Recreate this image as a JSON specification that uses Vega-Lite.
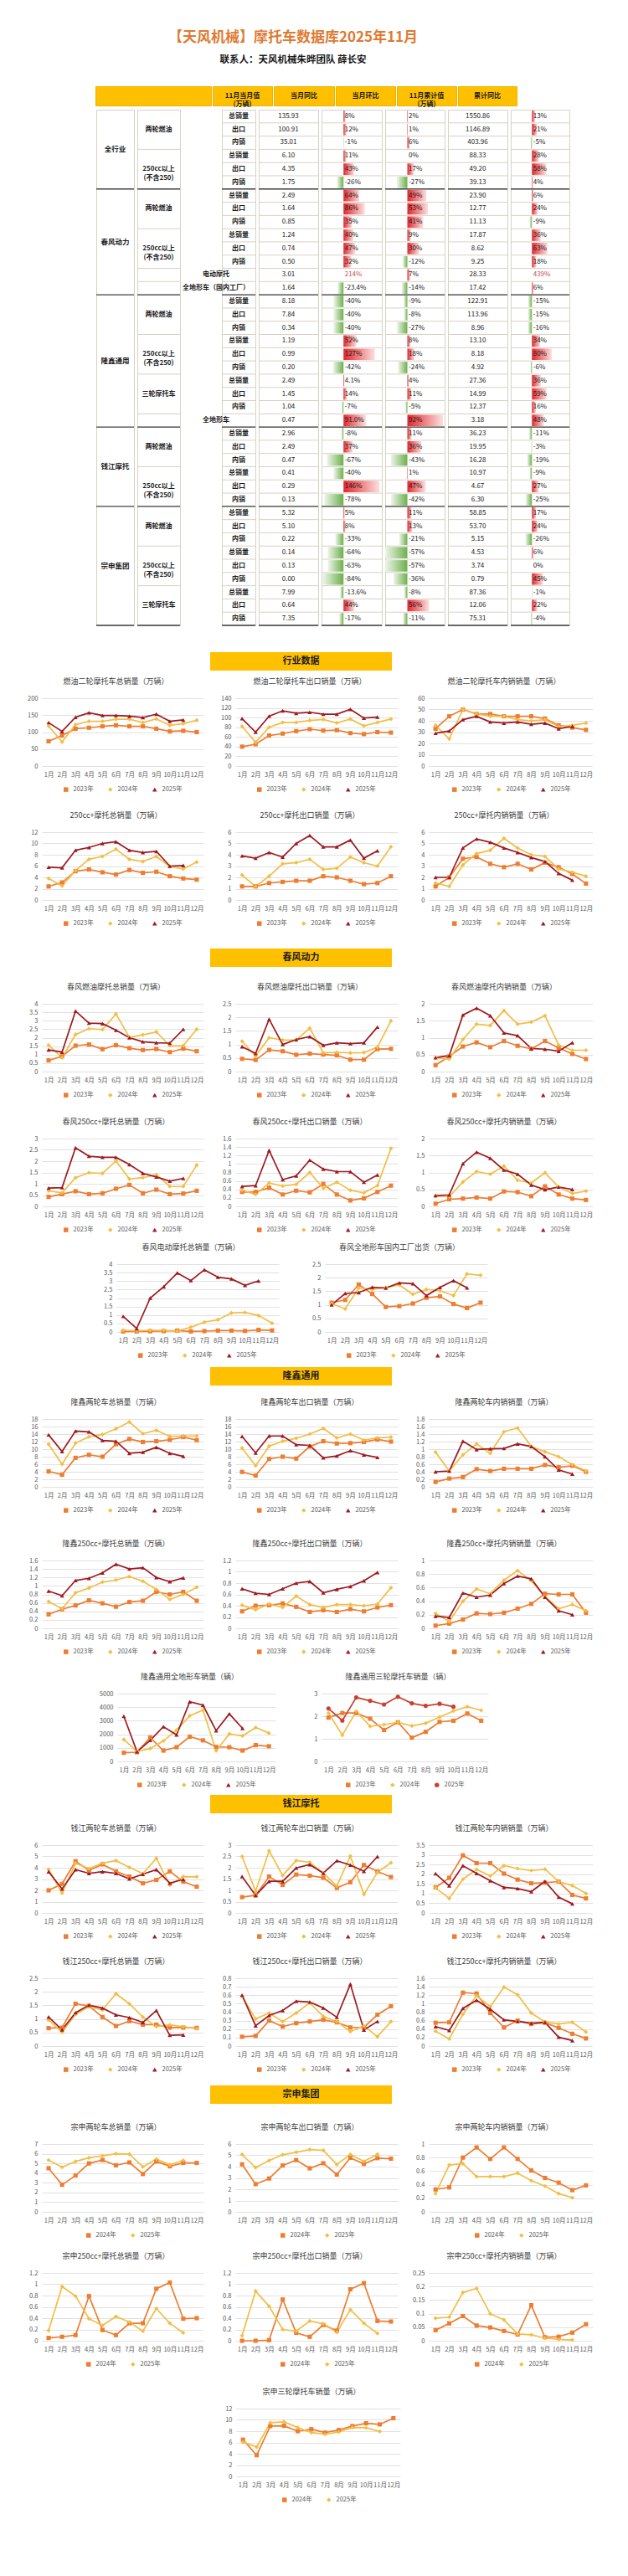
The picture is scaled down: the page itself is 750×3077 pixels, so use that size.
{
"$schema":"https://vega.github.io/schema/vega-lite/v6.json",
"background":"white",
"padding":{"left":0,"top":36,"right":0,"bottom":10},
"title":{"text":"【天风机械】摩托车数据库2025年11月","subtitle":"联系人：天风机械朱晔团队 薛长安","fontSize":17,"fontWeight":"bold","color":"#DE7A31","subtitleFontSize":11.5,"subtitleFontWeight":"bold","subtitleColor":"#1A1A1A","subtitlePadding":12,"offset":24,"anchor":"middle","frame":"bounds","dx":-4},
"config":{
"font":"Noto Sans CJK SC",
"view":{"stroke":null},
"axis":{"labelFontSize":7.5,"labelColor":"#595959","domain":false,"ticks":false,"labelOverlap":false,"gridColor":"#D9D9D9","gridWidth":0.8},
"axisX":{"labelAngle":0,"labelPadding":6,"grid":false},
"axisY":{"labelPadding":5},
"title":{"fontSize":9,"fontWeight":"normal","color":"#404040","frame":"group","anchor":"middle","dx":-8,"offset":11},
"legend":{"orient":"none","direction":"horizontal","labelFontSize":7.5,"labelColor":"#595959","symbolSize":30,"columnPadding":16,"labelOffset":5,"symbolStrokeWidth":0},
"line":{"strokeWidth":1.7},
"point":{"filled":true,"size":26,"opacity":1},
"text":{"fontSize":8,"color":"#1A1A1A"}
},
"datasets":{
"tbl":[
{"r":1,"co":"全行业","cat":"两轮燃油","met":"总销量","val":"135.93","yoy":0.08,"yt":"8%","mom":0.02,"mt":"2%","cum":"1550.86","cy":0.13,"ct":"13%"},
{"r":2,"co":"全行业","cat":"两轮燃油","met":"出口","val":"100.91","yoy":0.12,"yt":"12%","mom":0.01,"mt":"1%","cum":"1146.89","cy":0.21,"ct":"21%"},
{"r":3,"co":"全行业","cat":"两轮燃油","met":"内销","val":"35.01","yoy":-0.01,"yt":"-1%","mom":0.06,"mt":"6%","cum":"403.96","cy":-0.05,"ct":"-5%"},
{"r":4,"co":"全行业","cat":"250cc以上\n(不含250)","met":"总销量","val":"6.10","yoy":0.11,"yt":"11%","mom":0,"mt":"0%","cum":"88.33","cy":0.28,"ct":"28%"},
{"r":5,"co":"全行业","cat":"250cc以上\n(不含250)","met":"出口","val":"4.35","yoy":0.43,"yt":"43%","mom":0.17,"mt":"17%","cum":"49.20","cy":0.58,"ct":"58%"},
{"r":6,"co":"全行业","cat":"250cc以上\n(不含250)","met":"内销","val":"1.75","yoy":-0.26,"yt":"-26%","mom":-0.27,"mt":"-27%","cum":"39.13","cy":0.04,"ct":"4%"},
{"r":7,"co":"春风动力","cat":"两轮燃油","met":"总销量","val":"2.49","yoy":0.64,"yt":"64%","mom":0.49,"mt":"49%","cum":"23.90","cy":0.06,"ct":"6%"},
{"r":8,"co":"春风动力","cat":"两轮燃油","met":"出口","val":"1.64","yoy":0.86,"yt":"86%","mom":0.53,"mt":"53%","cum":"12.77","cy":0.24,"ct":"24%"},
{"r":9,"co":"春风动力","cat":"两轮燃油","met":"内销","val":"0.85","yoy":0.35,"yt":"35%","mom":0.41,"mt":"41%","cum":"11.13","cy":-0.09,"ct":"-9%"},
{"r":10,"co":"春风动力","cat":"250cc以上\n(不含250)","met":"总销量","val":"1.24","yoy":0.40,"yt":"40%","mom":0.09,"mt":"9%","cum":"17.87","cy":0.36,"ct":"36%"},
{"r":11,"co":"春风动力","cat":"250cc以上\n(不含250)","met":"出口","val":"0.74","yoy":0.47,"yt":"47%","mom":0.30,"mt":"30%","cum":"8.62","cy":0.63,"ct":"63%"},
{"r":12,"co":"春风动力","cat":"250cc以上\n(不含250)","met":"内销","val":"0.50","yoy":0.32,"yt":"32%","mom":-0.12,"mt":"-12%","cum":"9.25","cy":0.18,"ct":"18%"},
{"r":13,"co":"春风动力","cat":"电动摩托","met":"","val":"3.01","yoy":null,"yt":"214%","mom":0.07,"mt":"7%","cum":"28.33","cy":null,"ct":"439%"},
{"r":14,"co":"春风动力","cat":"全地形车（国内工厂）","met":"","val":"1.64","yoy":-0.234,"yt":"-23.4%","mom":-0.14,"mt":"-14%","cum":"17.42","cy":0.06,"ct":"6%"},
{"r":15,"co":"隆鑫通用","cat":"两轮燃油","met":"总销量","val":"8.18","yoy":-0.40,"yt":"-40%","mom":-0.09,"mt":"-9%","cum":"122.91","cy":-0.15,"ct":"-15%"},
{"r":16,"co":"隆鑫通用","cat":"两轮燃油","met":"出口","val":"7.84","yoy":-0.40,"yt":"-40%","mom":-0.08,"mt":"-8%","cum":"113.96","cy":-0.15,"ct":"-15%"},
{"r":17,"co":"隆鑫通用","cat":"两轮燃油","met":"内销","val":"0.34","yoy":-0.40,"yt":"-40%","mom":-0.27,"mt":"-27%","cum":"8.96","cy":-0.16,"ct":"-16%"},
{"r":18,"co":"隆鑫通用","cat":"250cc以上\n(不含250)","met":"总销量","val":"1.19","yoy":0.52,"yt":"52%","mom":0.08,"mt":"8%","cum":"13.10","cy":0.34,"ct":"34%"},
{"r":19,"co":"隆鑫通用","cat":"250cc以上\n(不含250)","met":"出口","val":"0.99","yoy":1.27,"yt":"127%","mom":0.18,"mt":"18%","cum":"8.18","cy":0.80,"ct":"80%"},
{"r":20,"co":"隆鑫通用","cat":"250cc以上\n(不含250)","met":"内销","val":"0.20","yoy":-0.42,"yt":"-42%","mom":-0.24,"mt":"-24%","cum":"4.92","cy":-0.06,"ct":"-6%"},
{"r":21,"co":"隆鑫通用","cat":"三轮摩托车","met":"总销量","val":"2.49","yoy":0.041,"yt":"4.1%","mom":0.04,"mt":"4%","cum":"27.36","cy":0.36,"ct":"36%"},
{"r":22,"co":"隆鑫通用","cat":"三轮摩托车","met":"出口","val":"1.45","yoy":0.14,"yt":"14%","mom":0.11,"mt":"11%","cum":"14.99","cy":0.59,"ct":"59%"},
{"r":23,"co":"隆鑫通用","cat":"三轮摩托车","met":"内销","val":"1.04","yoy":-0.07,"yt":"-7%","mom":-0.05,"mt":"-5%","cum":"12.37","cy":0.16,"ct":"16%"},
{"r":24,"co":"隆鑫通用","cat":"全地形车","met":"","val":"0.47","yoy":0.91,"yt":"91.0%","mom":0.92,"mt":"92%","cum":"3.18","cy":0.48,"ct":"48%"},
{"r":25,"co":"钱江摩托","cat":"两轮燃油","met":"总销量","val":"2.96","yoy":-0.08,"yt":"-8%","mom":0.11,"mt":"11%","cum":"36.23","cy":-0.11,"ct":"-11%"},
{"r":26,"co":"钱江摩托","cat":"两轮燃油","met":"出口","val":"2.49","yoy":0.37,"yt":"37%","mom":0.36,"mt":"36%","cum":"19.95","cy":-0.03,"ct":"-3%"},
{"r":27,"co":"钱江摩托","cat":"两轮燃油","met":"内销","val":"0.47","yoy":-0.67,"yt":"-67%","mom":-0.43,"mt":"-43%","cum":"16.28","cy":-0.19,"ct":"-19%"},
{"r":28,"co":"钱江摩托","cat":"250cc以上\n(不含250)","met":"总销量","val":"0.41","yoy":-0.40,"yt":"-40%","mom":0.01,"mt":"1%","cum":"10.97","cy":-0.09,"ct":"-9%"},
{"r":29,"co":"钱江摩托","cat":"250cc以上\n(不含250)","met":"出口","val":"0.29","yoy":1.46,"yt":"146%","mom":0.47,"mt":"47%","cum":"4.67","cy":0.27,"ct":"27%"},
{"r":30,"co":"钱江摩托","cat":"250cc以上\n(不含250)","met":"内销","val":"0.13","yoy":-0.78,"yt":"-78%","mom":-0.42,"mt":"-42%","cum":"6.30","cy":-0.25,"ct":"-25%"},
{"r":31,"co":"宗申集团","cat":"两轮燃油","met":"总销量","val":"5.32","yoy":0.05,"yt":"5%","mom":0.11,"mt":"11%","cum":"58.85","cy":0.17,"ct":"17%"},
{"r":32,"co":"宗申集团","cat":"两轮燃油","met":"出口","val":"5.10","yoy":0.08,"yt":"8%","mom":0.13,"mt":"13%","cum":"53.70","cy":0.24,"ct":"24%"},
{"r":33,"co":"宗申集团","cat":"两轮燃油","met":"内销","val":"0.22","yoy":-0.33,"yt":"-33%","mom":-0.21,"mt":"-21%","cum":"5.15","cy":-0.26,"ct":"-26%"},
{"r":34,"co":"宗申集团","cat":"250cc以上\n(不含250)","met":"总销量","val":"0.14","yoy":-0.64,"yt":"-64%","mom":-0.57,"mt":"-57%","cum":"4.53","cy":0.06,"ct":"6%"},
{"r":35,"co":"宗申集团","cat":"250cc以上\n(不含250)","met":"出口","val":"0.13","yoy":-0.63,"yt":"-63%","mom":-0.57,"mt":"-57%","cum":"3.74","cy":0,"ct":"0%"},
{"r":36,"co":"宗申集团","cat":"250cc以上\n(不含250)","met":"内销","val":"0.00","yoy":-0.84,"yt":"-84%","mom":-0.36,"mt":"-36%","cum":"0.79","cy":0.45,"ct":"45%"},
{"r":37,"co":"宗申集团","cat":"三轮摩托车","met":"总销量","val":"7.99","yoy":-0.136,"yt":"-13.6%","mom":-0.08,"mt":"-8%","cum":"87.36","cy":-0.01,"ct":"-1%"},
{"r":38,"co":"宗申集团","cat":"三轮摩托车","met":"出口","val":"0.64","yoy":0.44,"yt":"44%","mom":0.56,"mt":"56%","cum":"12.06","cy":0.22,"ct":"22%"},
{"r":39,"co":"宗申集团","cat":"三轮摩托车","met":"内销","val":"7.35","yoy":-0.17,"yt":"-17%","mom":-0.11,"mt":"-11%","cum":"75.31","cy":-0.04,"ct":"-4%"}
],
"I1":[{"m":1,"s":"2023年","v":73},{"m":2,"s":"2023年","v":90},{"m":3,"s":"2023年","v":110},{"m":4,"s":"2023年","v":113},{"m":5,"s":"2023年","v":117},{"m":6,"s":"2023年","v":120},{"m":7,"s":"2023年","v":117},{"m":8,"s":"2023年","v":117},{"m":9,"s":"2023年","v":110},{"m":10,"s":"2023年","v":102},{"m":11,"s":"2023年","v":104},{"m":12,"s":"2023年","v":100},
{"m":1,"s":"2024年","v":118},{"m":2,"s":"2024年","v":71},{"m":3,"s":"2024年","v":122},{"m":4,"s":"2024年","v":132},{"m":5,"s":"2024年","v":132},{"m":6,"s":"2024年","v":138},{"m":7,"s":"2024年","v":138},{"m":8,"s":"2024年","v":128},{"m":9,"s":"2024年","v":139},{"m":10,"s":"2024年","v":120},{"m":11,"s":"2024年","v":125},{"m":12,"s":"2024年","v":135},
{"m":1,"s":"2025年","v":128},{"m":2,"s":"2025年","v":102},{"m":3,"s":"2025年","v":144},{"m":4,"s":"2025年","v":157},{"m":5,"s":"2025年","v":149},{"m":6,"s":"2025年","v":149},{"m":7,"s":"2025年","v":147},{"m":8,"s":"2025年","v":143},{"m":9,"s":"2025年","v":153},{"m":10,"s":"2025年","v":132},{"m":11,"s":"2025年","v":136}],
"I2":[{"m":1,"s":"2023年","v":40},{"m":2,"s":"2023年","v":45},{"m":3,"s":"2023年","v":63},{"m":4,"s":"2023年","v":67},{"m":5,"s":"2023年","v":72},{"m":6,"s":"2023年","v":76},{"m":7,"s":"2023年","v":73},{"m":8,"s":"2023年","v":74},{"m":9,"s":"2023年","v":68},{"m":10,"s":"2023年","v":66},{"m":11,"s":"2023年","v":70},{"m":12,"s":"2023年","v":69},
{"m":1,"s":"2024年","v":82},{"m":2,"s":"2024年","v":49},{"m":3,"s":"2024年","v":80},{"m":4,"s":"2024年","v":90},{"m":5,"s":"2024年","v":90},{"m":6,"s":"2024年","v":94},{"m":7,"s":"2024年","v":96},{"m":8,"s":"2024年","v":89},{"m":9,"s":"2024年","v":97},{"m":10,"s":"2024年","v":83},{"m":11,"s":"2024年","v":90},{"m":12,"s":"2024年","v":97},
{"m":1,"s":"2025年","v":98},{"m":2,"s":"2025年","v":70},{"m":3,"s":"2025年","v":103},{"m":4,"s":"2025年","v":114},{"m":5,"s":"2025年","v":109},{"m":6,"s":"2025年","v":111},{"m":7,"s":"2025年","v":107},{"m":8,"s":"2025年","v":107},{"m":9,"s":"2025年","v":117},{"m":10,"s":"2025年","v":99},{"m":11,"s":"2025年","v":101}],
"I3":[{"m":1,"s":"2023年","v":33},{"m":2,"s":"2023年","v":44},{"m":3,"s":"2023年","v":50},{"m":4,"s":"2023年","v":46},{"m":5,"s":"2023年","v":46},{"m":6,"s":"2023年","v":44},{"m":7,"s":"2023年","v":44},{"m":8,"s":"2023年","v":44},{"m":9,"s":"2023年","v":42},{"m":10,"s":"2023年","v":36},{"m":11,"s":"2023年","v":34},{"m":12,"s":"2023年","v":32},
{"m":1,"s":"2024年","v":36},{"m":2,"s":"2024年","v":24},{"m":3,"s":"2024年","v":50},{"m":4,"s":"2024年","v":46},{"m":5,"s":"2024年","v":44},{"m":6,"s":"2024年","v":44},{"m":7,"s":"2024年","v":41},{"m":8,"s":"2024年","v":40},{"m":9,"s":"2024年","v":41},{"m":10,"s":"2024年","v":35},{"m":11,"s":"2024年","v":36},{"m":12,"s":"2024年","v":38},
{"m":1,"s":"2025年","v":29},{"m":2,"s":"2025年","v":31},{"m":3,"s":"2025年","v":41},{"m":4,"s":"2025年","v":44},{"m":5,"s":"2025年","v":39},{"m":6,"s":"2025年","v":38},{"m":7,"s":"2025年","v":39},{"m":8,"s":"2025年","v":37},{"m":9,"s":"2025年","v":38},{"m":10,"s":"2025年","v":33},{"m":11,"s":"2025年","v":35}],
"I4":[{"m":1,"s":"2023年","v":2.4},{"m":2,"s":"2023年","v":3.1},{"m":3,"s":"2023年","v":5.1},{"m":4,"s":"2023年","v":5.4},{"m":5,"s":"2023年","v":4.9},{"m":6,"s":"2023年","v":4.5},{"m":7,"s":"2023年","v":5.3},{"m":8,"s":"2023年","v":4.8},{"m":9,"s":"2023年","v":5.0},{"m":10,"s":"2023年","v":4.2},{"m":11,"s":"2023年","v":3.8},{"m":12,"s":"2023年","v":3.6},
{"m":1,"s":"2024年","v":3.8},{"m":2,"s":"2024年","v":2.5},{"m":3,"s":"2024年","v":5.2},{"m":4,"s":"2024年","v":7.2},{"m":5,"s":"2024年","v":7.7},{"m":6,"s":"2024年","v":9.0},{"m":7,"s":"2024年","v":7.2},{"m":8,"s":"2024年","v":6.8},{"m":9,"s":"2024年","v":7.7},{"m":10,"s":"2024年","v":5.9},{"m":11,"s":"2024年","v":5.5},{"m":12,"s":"2024年","v":6.7},
{"m":1,"s":"2025年","v":5.8},{"m":2,"s":"2025年","v":5.7},{"m":3,"s":"2025年","v":8.8},{"m":4,"s":"2025年","v":9.3},{"m":5,"s":"2025年","v":10.0},{"m":6,"s":"2025年","v":10.3},{"m":7,"s":"2025年","v":8.8},{"m":8,"s":"2025年","v":8.4},{"m":9,"s":"2025年","v":8.6},{"m":10,"s":"2025年","v":6.0},{"m":11,"s":"2025年","v":6.1}],
"I5":[{"m":1,"s":"2023年","v":1.2},{"m":2,"s":"2023年","v":1.2},{"m":3,"s":"2023年","v":1.5},{"m":4,"s":"2023年","v":1.6},{"m":5,"s":"2023年","v":1.7},{"m":6,"s":"2023年","v":1.7},{"m":7,"s":"2023年","v":2.1},{"m":8,"s":"2023年","v":2.0},{"m":9,"s":"2023年","v":1.7},{"m":10,"s":"2023年","v":1.4},{"m":11,"s":"2023年","v":1.5},{"m":12,"s":"2023年","v":2.1},
{"m":1,"s":"2024年","v":2.2},{"m":2,"s":"2024年","v":1.2},{"m":3,"s":"2024年","v":2.1},{"m":4,"s":"2024年","v":3.2},{"m":5,"s":"2024年","v":3.3},{"m":6,"s":"2024年","v":3.6},{"m":7,"s":"2024年","v":2.7},{"m":8,"s":"2024年","v":2.8},{"m":9,"s":"2024年","v":3.8},{"m":10,"s":"2024年","v":3.3},{"m":11,"s":"2024年","v":3.0},{"m":12,"s":"2024年","v":4.7},
{"m":1,"s":"2025年","v":3.9},{"m":2,"s":"2025年","v":3.7},{"m":3,"s":"2025年","v":4.2},{"m":4,"s":"2025年","v":3.8},{"m":5,"s":"2025年","v":5.0},{"m":6,"s":"2025年","v":5.7},{"m":7,"s":"2025年","v":4.7},{"m":8,"s":"2025年","v":4.7},{"m":9,"s":"2025年","v":5.3},{"m":10,"s":"2025年","v":3.7},{"m":11,"s":"2025年","v":4.35}],
"I6":[{"m":1,"s":"2023年","v":1.2},{"m":2,"s":"2023年","v":2.0},{"m":3,"s":"2023年","v":3.65},{"m":4,"s":"2023年","v":3.8},{"m":5,"s":"2023年","v":3.2},{"m":6,"s":"2023年","v":2.9},{"m":7,"s":"2023年","v":3.2},{"m":8,"s":"2023年","v":2.7},{"m":9,"s":"2023年","v":3.3},{"m":10,"s":"2023年","v":2.9},{"m":11,"s":"2023年","v":2.3},{"m":12,"s":"2023年","v":1.45},
{"m":1,"s":"2024年","v":1.5},{"m":2,"s":"2024年","v":1.2},{"m":3,"s":"2024年","v":3.1},{"m":4,"s":"2024年","v":4.1},{"m":5,"s":"2024年","v":4.4},{"m":6,"s":"2024年","v":5.45},{"m":7,"s":"2024年","v":4.6},{"m":8,"s":"2024年","v":4.0},{"m":9,"s":"2024年","v":3.85},{"m":10,"s":"2024年","v":2.75},{"m":11,"s":"2024年","v":2.45},{"m":12,"s":"2024年","v":2.1},
{"m":1,"s":"2025年","v":2.0},{"m":2,"s":"2025年","v":2.0},{"m":3,"s":"2025年","v":4.6},{"m":4,"s":"2025年","v":5.4},{"m":5,"s":"2025年","v":5.1},{"m":6,"s":"2025年","v":4.6},{"m":7,"s":"2025年","v":4.2},{"m":8,"s":"2025年","v":3.75},{"m":9,"s":"2025年","v":3.4},{"m":10,"s":"2025年","v":2.35},{"m":11,"s":"2025年","v":1.75}],
"C1":[{"m":1,"s":"2023年","v":0.66},{"m":2,"s":"2023年","v":0.9},{"m":3,"s":"2023年","v":1.53},{"m":4,"s":"2023年","v":1.6},{"m":5,"s":"2023年","v":1.32},{"m":6,"s":"2023年","v":1.56},{"m":7,"s":"2023年","v":1.38},{"m":8,"s":"2023年","v":1.27},{"m":9,"s":"2023年","v":1.33},{"m":10,"s":"2023年","v":1.15},{"m":11,"s":"2023年","v":1.35},{"m":12,"s":"2023年","v":1.2},
{"m":1,"s":"2024年","v":1.56},{"m":2,"s":"2024年","v":0.82},{"m":3,"s":"2024年","v":2.19},{"m":4,"s":"2024年","v":2.53},{"m":5,"s":"2024年","v":2.48},{"m":6,"s":"2024年","v":3.4},{"m":7,"s":"2024年","v":2.02},{"m":8,"s":"2024年","v":2.17},{"m":9,"s":"2024年","v":2.34},{"m":10,"s":"2024年","v":1.53},{"m":11,"s":"2024年","v":1.53},{"m":12,"s":"2024年","v":2.5},
{"m":1,"s":"2025年","v":1.28},{"m":2,"s":"2025年","v":1.15},{"m":3,"s":"2025年","v":3.57},{"m":4,"s":"2025年","v":2.86},{"m":5,"s":"2025年","v":2.83},{"m":6,"s":"2025年","v":2.44},{"m":7,"s":"2025年","v":2.0},{"m":8,"s":"2025年","v":1.76},{"m":9,"s":"2025年","v":1.7},{"m":10,"s":"2025年","v":1.68},{"m":11,"s":"2025年","v":2.49}],
"C2":[{"m":1,"s":"2023年","v":0.47},{"m":2,"s":"2023年","v":0.43},{"m":3,"s":"2023年","v":0.8},{"m":4,"s":"2023年","v":0.75},{"m":5,"s":"2023年","v":0.62},{"m":6,"s":"2023年","v":0.66},{"m":7,"s":"2023年","v":0.63},{"m":8,"s":"2023年","v":0.6},{"m":9,"s":"2023年","v":0.44},{"m":10,"s":"2023年","v":0.44},{"m":11,"s":"2023年","v":0.83},{"m":12,"s":"2023年","v":0.84},
{"m":1,"s":"2024年","v":1.12},{"m":2,"s":"2024年","v":0.57},{"m":3,"s":"2024年","v":1.25},{"m":4,"s":"2024年","v":1.16},{"m":5,"s":"2024年","v":1.16},{"m":6,"s":"2024年","v":1.6},{"m":7,"s":"2024年","v":0.69},{"m":8,"s":"2024年","v":0.71},{"m":9,"s":"2024年","v":0.69},{"m":10,"s":"2024年","v":0.7},{"m":11,"s":"2024年","v":0.9},{"m":12,"s":"2024年","v":1.87},
{"m":1,"s":"2025年","v":0.92},{"m":2,"s":"2025年","v":0.67},{"m":3,"s":"2025年","v":1.93},{"m":4,"s":"2025年","v":1.0},{"m":5,"s":"2025年","v":1.18},{"m":6,"s":"2025年","v":1.29},{"m":7,"s":"2025年","v":0.97},{"m":8,"s":"2025年","v":1.06},{"m":9,"s":"2025年","v":1.03},{"m":10,"s":"2025年","v":1.06},{"m":11,"s":"2025年","v":1.64}],
"C3":[{"m":1,"s":"2023年","v":0.19},{"m":2,"s":"2023年","v":0.45},{"m":3,"s":"2023年","v":0.74},{"m":4,"s":"2023年","v":0.86},{"m":5,"s":"2023年","v":0.72},{"m":6,"s":"2023年","v":0.9},{"m":7,"s":"2023年","v":0.76},{"m":8,"s":"2023年","v":0.67},{"m":9,"s":"2023年","v":0.9},{"m":10,"s":"2023年","v":0.7},{"m":11,"s":"2023年","v":0.52},{"m":12,"s":"2023年","v":0.37},
{"m":1,"s":"2024年","v":0.41},{"m":2,"s":"2024年","v":0.37},{"m":3,"s":"2024年","v":0.95},{"m":4,"s":"2024年","v":1.4},{"m":5,"s":"2024年","v":1.36},{"m":6,"s":"2024年","v":1.8},{"m":7,"s":"2024年","v":1.4},{"m":8,"s":"2024年","v":1.46},{"m":9,"s":"2024年","v":1.65},{"m":10,"s":"2024年","v":0.78},{"m":11,"s":"2024年","v":0.63},{"m":12,"s":"2024年","v":0.63},
{"m":1,"s":"2025年","v":0.41},{"m":2,"s":"2025年","v":0.47},{"m":3,"s":"2025年","v":1.67},{"m":4,"s":"2025年","v":1.87},{"m":5,"s":"2025年","v":1.65},{"m":6,"s":"2025年","v":1.14},{"m":7,"s":"2025年","v":1.06},{"m":8,"s":"2025年","v":0.68},{"m":9,"s":"2025年","v":0.66},{"m":10,"s":"2025年","v":0.6},{"m":11,"s":"2025年","v":0.85}],
"C4":[{"m":1,"s":"2023年","v":0.42},{"m":2,"s":"2023年","v":0.54},{"m":3,"s":"2023年","v":0.67},{"m":4,"s":"2023年","v":0.54},{"m":5,"s":"2023年","v":0.58},{"m":6,"s":"2023年","v":0.78},{"m":7,"s":"2023年","v":0.95},{"m":8,"s":"2023年","v":0.58},{"m":9,"s":"2023年","v":0.74},{"m":10,"s":"2023年","v":0.54},{"m":11,"s":"2023年","v":0.57},{"m":12,"s":"2023年","v":0.69},
{"m":1,"s":"2024年","v":0.69},{"m":2,"s":"2024年","v":0.6},{"m":3,"s":"2024年","v":1.27},{"m":4,"s":"2024年","v":1.49},{"m":5,"s":"2024年","v":1.46},{"m":6,"s":"2024年","v":2.01},{"m":7,"s":"2024年","v":1.21},{"m":8,"s":"2024年","v":1.27},{"m":9,"s":"2024年","v":1.4},{"m":10,"s":"2024年","v":0.88},{"m":11,"s":"2024年","v":0.88},{"m":12,"s":"2024年","v":1.83},
{"m":1,"s":"2025年","v":0.81},{"m":2,"s":"2025年","v":0.83},{"m":3,"s":"2025年","v":2.59},{"m":4,"s":"2025年","v":2.22},{"m":5,"s":"2025年","v":2.17},{"m":6,"s":"2025年","v":2.17},{"m":7,"s":"2025年","v":1.85},{"m":8,"s":"2025年","v":1.46},{"m":9,"s":"2025年","v":1.3},{"m":10,"s":"2025年","v":1.12},{"m":11,"s":"2025年","v":1.24}],
"C5":[{"m":1,"s":"2023年","v":0.34},{"m":2,"s":"2023年","v":0.34},{"m":3,"s":"2023年","v":0.44},{"m":4,"s":"2023年","v":0.28},{"m":5,"s":"2023年","v":0.37},{"m":6,"s":"2023年","v":0.33},{"m":7,"s":"2023年","v":0.53},{"m":8,"s":"2023年","v":0.28},{"m":9,"s":"2023年","v":0.14},{"m":10,"s":"2023年","v":0.19},{"m":11,"s":"2023年","v":0.34},{"m":12,"s":"2023年","v":0.49},
{"m":1,"s":"2024年","v":0.38},{"m":2,"s":"2024年","v":0.28},{"m":3,"s":"2024年","v":0.55},{"m":4,"s":"2024年","v":0.48},{"m":5,"s":"2024年","v":0.52},{"m":6,"s":"2024年","v":0.8},{"m":7,"s":"2024年","v":0.43},{"m":8,"s":"2024年","v":0.57},{"m":9,"s":"2024年","v":0.38},{"m":10,"s":"2024年","v":0.32},{"m":11,"s":"2024年","v":0.49},{"m":12,"s":"2024年","v":1.37},
{"m":1,"s":"2025年","v":0.47},{"m":2,"s":"2025年","v":0.49},{"m":3,"s":"2025年","v":1.32},{"m":4,"s":"2025年","v":0.63},{"m":5,"s":"2025年","v":0.72},{"m":6,"s":"2025年","v":1.09},{"m":7,"s":"2025年","v":0.88},{"m":8,"s":"2025年","v":0.82},{"m":9,"s":"2025年","v":0.82},{"m":10,"s":"2025年","v":0.57},{"m":11,"s":"2025年","v":0.74}],
"C6":[{"m":1,"s":"2023年","v":0.08},{"m":2,"s":"2023年","v":0.21},{"m":3,"s":"2023年","v":0.23},{"m":4,"s":"2023年","v":0.26},{"m":5,"s":"2023年","v":0.23},{"m":6,"s":"2023年","v":0.44},{"m":7,"s":"2023年","v":0.42},{"m":8,"s":"2023年","v":0.3},{"m":9,"s":"2023年","v":0.59},{"m":10,"s":"2023年","v":0.35},{"m":11,"s":"2023年","v":0.23},{"m":12,"s":"2023年","v":0.19},
{"m":1,"s":"2024年","v":0.3},{"m":2,"s":"2024年","v":0.29},{"m":3,"s":"2024年","v":0.72},{"m":4,"s":"2024年","v":1.03},{"m":5,"s":"2024年","v":0.95},{"m":6,"s":"2024年","v":1.19},{"m":7,"s":"2024年","v":0.77},{"m":8,"s":"2024年","v":0.69},{"m":9,"s":"2024年","v":0.99},{"m":10,"s":"2024年","v":0.57},{"m":11,"s":"2024年","v":0.38},{"m":12,"s":"2024年","v":0.45},
{"m":1,"s":"2025年","v":0.32},{"m":2,"s":"2025年","v":0.34},{"m":3,"s":"2025年","v":1.26},{"m":4,"s":"2025年","v":1.6},{"m":5,"s":"2025年","v":1.42},{"m":6,"s":"2025年","v":1.07},{"m":7,"s":"2025年","v":0.95},{"m":8,"s":"2025年","v":0.63},{"m":9,"s":"2025年","v":0.49},{"m":10,"s":"2025年","v":0.57},{"m":11,"s":"2025年","v":0.5}],
"C7":[{"m":1,"s":"2023年","v":0.03},{"m":2,"s":"2023年","v":0.03},{"m":3,"s":"2023年","v":0.04},{"m":4,"s":"2023年","v":0.05},{"m":5,"s":"2023年","v":0.08},{"m":6,"s":"2023年","v":0.03},{"m":7,"s":"2023年","v":0.05},{"m":8,"s":"2023年","v":0.08},{"m":9,"s":"2023年","v":0.08},{"m":10,"s":"2023年","v":0.06},{"m":11,"s":"2023年","v":0.12},{"m":12,"s":"2023年","v":0.09},
{"m":1,"s":"2024年","v":0.1},{"m":2,"s":"2024年","v":0.07},{"m":3,"s":"2024年","v":0.1},{"m":4,"s":"2024年","v":0.1},{"m":5,"s":"2024年","v":0.06},{"m":6,"s":"2024年","v":0.28},{"m":7,"s":"2024年","v":0.58},{"m":8,"s":"2024年","v":0.72},{"m":9,"s":"2024年","v":1.12},{"m":10,"s":"2024年","v":1.15},{"m":11,"s":"2024年","v":0.97},{"m":12,"s":"2024年","v":0.52},
{"m":1,"s":"2025年","v":0.92},{"m":2,"s":"2025年","v":0.2},{"m":3,"s":"2025年","v":2.0},{"m":4,"s":"2025年","v":2.67},{"m":5,"s":"2025年","v":3.48},{"m":6,"s":"2025年","v":3.03},{"m":7,"s":"2025年","v":3.67},{"m":8,"s":"2025年","v":3.23},{"m":9,"s":"2025年","v":3.13},{"m":10,"s":"2025年","v":2.75},{"m":11,"s":"2025年","v":3.01}],
"C8":[{"m":1,"s":"2023年","v":1.08},{"m":2,"s":"2023年","v":1.18},{"m":3,"s":"2023年","v":1.75},{"m":4,"s":"2023年","v":1.4},{"m":5,"s":"2023年","v":0.92},{"m":6,"s":"2023年","v":0.95},{"m":7,"s":"2023年","v":1.05},{"m":8,"s":"2023年","v":1.26},{"m":9,"s":"2023年","v":1.31},{"m":10,"s":"2023年","v":1.03},{"m":11,"s":"2023年","v":0.88},{"m":12,"s":"2023年","v":1.08},
{"m":1,"s":"2024年","v":1.05},{"m":2,"s":"2024年","v":0.85},{"m":3,"s":"2024年","v":1.62},{"m":4,"s":"2024年","v":1.57},{"m":5,"s":"2024年","v":1.64},{"m":6,"s":"2024年","v":1.73},{"m":7,"s":"2024年","v":1.39},{"m":8,"s":"2024年","v":1.57},{"m":9,"s":"2024年","v":1.52},{"m":10,"s":"2024年","v":1.34},{"m":11,"s":"2024年","v":2.14},{"m":12,"s":"2024年","v":2.09},
{"m":1,"s":"2025年","v":1.0},{"m":2,"s":"2025年","v":1.42},{"m":3,"s":"2025年","v":1.45},{"m":4,"s":"2025年","v":1.65},{"m":5,"s":"2025年","v":1.62},{"m":6,"s":"2025年","v":1.81},{"m":7,"s":"2025年","v":1.78},{"m":8,"s":"2025年","v":1.34},{"m":9,"s":"2025年","v":1.64},{"m":10,"s":"2025年","v":1.89},{"m":11,"s":"2025年","v":1.63}],
"L1":[{"m":1,"s":"2023年","v":4.1},{"m":2,"s":"2023年","v":3.2},{"m":3,"s":"2023年","v":7.7},{"m":4,"s":"2023年","v":8.5},{"m":5,"s":"2023年","v":8.0},{"m":6,"s":"2023年","v":11.3},{"m":7,"s":"2023年","v":12.7},{"m":8,"s":"2023年","v":11.9},{"m":9,"s":"2023年","v":12.1},{"m":10,"s":"2023年","v":12.5},{"m":11,"s":"2023年","v":13.2},{"m":12,"s":"2023年","v":12.4},
{"m":1,"s":"2024年","v":11.3},{"m":2,"s":"2024年","v":6.0},{"m":3,"s":"2024年","v":11.6},{"m":4,"s":"2024年","v":13.3},{"m":5,"s":"2024年","v":13.9},{"m":6,"s":"2024年","v":15.4},{"m":7,"s":"2024年","v":17.2},{"m":8,"s":"2024年","v":14.1},{"m":9,"s":"2024年","v":15.0},{"m":10,"s":"2024年","v":13.4},{"m":11,"s":"2024年","v":13.5},{"m":12,"s":"2024年","v":13.5},
{"m":1,"s":"2025年","v":13.8},{"m":2,"s":"2025年","v":9.4},{"m":3,"s":"2025年","v":14.8},{"m":4,"s":"2025年","v":14.6},{"m":5,"s":"2025年","v":12.3},{"m":6,"s":"2025年","v":12.1},{"m":7,"s":"2025年","v":8.9},{"m":8,"s":"2025年","v":9.2},{"m":9,"s":"2025年","v":10.5},{"m":10,"s":"2025年","v":8.9},{"m":11,"s":"2025年","v":8.1}],
"L2":[{"m":1,"s":"2023年","v":3.95},{"m":2,"s":"2023年","v":3.0},{"m":3,"s":"2023年","v":7.4},{"m":4,"s":"2023年","v":8.0},{"m":5,"s":"2023年","v":7.5},{"m":6,"s":"2023年","v":10.7},{"m":7,"s":"2023年","v":12.1},{"m":8,"s":"2023年","v":11.5},{"m":9,"s":"2023年","v":11.6},{"m":10,"s":"2023年","v":11.9},{"m":11,"s":"2023年","v":12.6},{"m":12,"s":"2023年","v":12.0},
{"m":1,"s":"2024年","v":10.3},{"m":2,"s":"2024年","v":5.6},{"m":3,"s":"2024年","v":10.8},{"m":4,"s":"2024年","v":12.1},{"m":5,"s":"2024年","v":12.9},{"m":6,"s":"2024年","v":14.0},{"m":7,"s":"2024年","v":15.5},{"m":8,"s":"2024年","v":13.0},{"m":9,"s":"2024年","v":14.0},{"m":10,"s":"2024年","v":12.4},{"m":11,"s":"2024年","v":13.0},{"m":12,"s":"2024年","v":13.2},
{"m":1,"s":"2025年","v":13.4},{"m":2,"s":"2025年","v":9.0},{"m":3,"s":"2025年","v":13.5},{"m":4,"s":"2025年","v":13.5},{"m":5,"s":"2025年","v":11.2},{"m":6,"s":"2025年","v":11.0},{"m":7,"s":"2025年","v":7.7},{"m":8,"s":"2025年","v":8.2},{"m":9,"s":"2025年","v":9.6},{"m":10,"s":"2025年","v":8.5},{"m":11,"s":"2025年","v":7.8}],
"L3":[{"m":1,"s":"2023年","v":0.13},{"m":2,"s":"2023年","v":0.22},{"m":3,"s":"2023年","v":0.26},{"m":4,"s":"2023年","v":0.47},{"m":5,"s":"2023年","v":0.42},{"m":6,"s":"2023年","v":0.48},{"m":7,"s":"2023年","v":0.48},{"m":8,"s":"2023年","v":0.48},{"m":9,"s":"2023年","v":0.58},{"m":10,"s":"2023年","v":0.52},{"m":11,"s":"2023年","v":0.56},{"m":12,"s":"2023年","v":0.4},
{"m":1,"s":"2024年","v":0.92},{"m":2,"s":"2024年","v":0.42},{"m":3,"s":"2024年","v":0.85},{"m":4,"s":"2024年","v":1.14},{"m":5,"s":"2024年","v":0.89},{"m":6,"s":"2024年","v":1.46},{"m":7,"s":"2024年","v":1.56},{"m":8,"s":"2024年","v":1.07},{"m":9,"s":"2024年","v":0.93},{"m":10,"s":"2024年","v":0.8},{"m":11,"s":"2024年","v":0.59},{"m":12,"s":"2024年","v":0.42},
{"m":1,"s":"2025年","v":0.4},{"m":2,"s":"2025年","v":0.42},{"m":3,"s":"2025年","v":1.21},{"m":4,"s":"2025年","v":0.99},{"m":5,"s":"2025年","v":1.01},{"m":6,"s":"2025年","v":1.02},{"m":7,"s":"2025年","v":1.14},{"m":8,"s":"2025年","v":1.07},{"m":9,"s":"2025年","v":0.8},{"m":10,"s":"2025年","v":0.45},{"m":11,"s":"2025年","v":0.34}],
"L4":[{"m":1,"s":"2023年","v":0.33},{"m":2,"s":"2023年","v":0.45},{"m":3,"s":"2023年","v":0.54},{"m":4,"s":"2023年","v":0.66},{"m":5,"s":"2023年","v":0.59},{"m":6,"s":"2023年","v":0.51},{"m":7,"s":"2023年","v":0.62},{"m":8,"s":"2023年","v":0.65},{"m":9,"s":"2023年","v":0.86},{"m":10,"s":"2023年","v":0.8},{"m":11,"s":"2023年","v":0.86},{"m":12,"s":"2023年","v":0.65},
{"m":1,"s":"2024年","v":0.63},{"m":2,"s":"2024年","v":0.46},{"m":3,"s":"2024年","v":0.84},{"m":4,"s":"2024年","v":0.95},{"m":5,"s":"2024年","v":1.09},{"m":6,"s":"2024年","v":1.14},{"m":7,"s":"2024年","v":1.22},{"m":8,"s":"2024年","v":1.11},{"m":9,"s":"2024年","v":0.92},{"m":10,"s":"2024年","v":0.68},{"m":11,"s":"2024年","v":0.8},{"m":12,"s":"2024年","v":0.97},
{"m":1,"s":"2025年","v":0.88},{"m":2,"s":"2025年","v":0.77},{"m":3,"s":"2025年","v":1.13},{"m":4,"s":"2025年","v":1.18},{"m":5,"s":"2025年","v":1.31},{"m":6,"s":"2025年","v":1.51},{"m":7,"s":"2025年","v":1.4},{"m":8,"s":"2025年","v":1.43},{"m":9,"s":"2025年","v":1.2},{"m":10,"s":"2025年","v":1.1},{"m":11,"s":"2025年","v":1.19}],
"L5":[{"m":1,"s":"2023年","v":0.3},{"m":2,"s":"2023年","v":0.4},{"m":3,"s":"2023年","v":0.41},{"m":4,"s":"2023年","v":0.44},{"m":5,"s":"2023年","v":0.38},{"m":6,"s":"2023年","v":0.29},{"m":7,"s":"2023年","v":0.32},{"m":8,"s":"2023年","v":0.29},{"m":9,"s":"2023年","v":0.34},{"m":10,"s":"2023年","v":0.3},{"m":11,"s":"2023年","v":0.37},{"m":12,"s":"2023年","v":0.41},
{"m":1,"s":"2024年","v":0.41},{"m":2,"s":"2024年","v":0.33},{"m":3,"s":"2024年","v":0.43},{"m":4,"s":"2024年","v":0.37},{"m":5,"s":"2024年","v":0.57},{"m":6,"s":"2024年","v":0.42},{"m":7,"s":"2024年","v":0.37},{"m":8,"s":"2024年","v":0.42},{"m":9,"s":"2024年","v":0.42},{"m":10,"s":"2024年","v":0.4},{"m":11,"s":"2024年","v":0.43},{"m":12,"s":"2024年","v":0.72},
{"m":1,"s":"2025年","v":0.7},{"m":2,"s":"2025年","v":0.62},{"m":3,"s":"2025年","v":0.6},{"m":4,"s":"2025年","v":0.7},{"m":5,"s":"2025年","v":0.8},{"m":6,"s":"2025年","v":0.83},{"m":7,"s":"2025年","v":0.63},{"m":8,"s":"2025年","v":0.69},{"m":9,"s":"2025年","v":0.74},{"m":10,"s":"2025年","v":0.84},{"m":11,"s":"2025年","v":0.99}],
"L6":[{"m":1,"s":"2023年","v":0.04},{"m":2,"s":"2023年","v":0.07},{"m":3,"s":"2023年","v":0.13},{"m":4,"s":"2023年","v":0.22},{"m":5,"s":"2023年","v":0.21},{"m":6,"s":"2023年","v":0.23},{"m":7,"s":"2023年","v":0.29},{"m":8,"s":"2023年","v":0.36},{"m":9,"s":"2023年","v":0.51},{"m":10,"s":"2023年","v":0.5},{"m":11,"s":"2023年","v":0.5},{"m":12,"s":"2023年","v":0.23},
{"m":1,"s":"2024年","v":0.22},{"m":2,"s":"2024年","v":0.1},{"m":3,"s":"2024年","v":0.4},{"m":4,"s":"2024年","v":0.58},{"m":5,"s":"2024年","v":0.51},{"m":6,"s":"2024年","v":0.71},{"m":7,"s":"2024年","v":0.85},{"m":8,"s":"2024年","v":0.7},{"m":9,"s":"2024年","v":0.47},{"m":10,"s":"2024年","v":0.29},{"m":11,"s":"2024年","v":0.35},{"m":12,"s":"2024年","v":0.26},
{"m":1,"s":"2025年","v":0.18},{"m":2,"s":"2025年","v":0.16},{"m":3,"s":"2025年","v":0.52},{"m":4,"s":"2025年","v":0.46},{"m":5,"s":"2025年","v":0.49},{"m":6,"s":"2025年","v":0.66},{"m":7,"s":"2025年","v":0.77},{"m":8,"s":"2025年","v":0.73},{"m":9,"s":"2025年","v":0.46},{"m":10,"s":"2025年","v":0.26},{"m":11,"s":"2025年","v":0.2}],
"L7":[{"m":1,"s":"2023年","v":640},{"m":2,"s":"2023年","v":680},{"m":3,"s":"2023年","v":1760},{"m":4,"s":"2023年","v":800},{"m":5,"s":"2023年","v":1050},{"m":6,"s":"2023年","v":1820},{"m":7,"s":"2023年","v":1550},{"m":8,"s":"2023年","v":1070},{"m":9,"s":"2023年","v":1050},{"m":10,"s":"2023年","v":800},{"m":11,"s":"2023年","v":1200},{"m":12,"s":"2023年","v":1120},
{"m":1,"s":"2024年","v":1610},{"m":2,"s":"2024年","v":740},{"m":3,"s":"2024年","v":950},{"m":4,"s":"2024年","v":1510},{"m":5,"s":"2024年","v":2310},{"m":6,"s":"2024年","v":3370},{"m":7,"s":"2024年","v":3780},{"m":8,"s":"2024年","v":790},{"m":9,"s":"2024年","v":2030},{"m":10,"s":"2024年","v":1880},{"m":11,"s":"2024年","v":2500},{"m":12,"s":"2024年","v":2090},
{"m":1,"s":"2025年","v":3330},{"m":2,"s":"2025年","v":720},{"m":3,"s":"2025年","v":1550},{"m":4,"s":"2025年","v":2560},{"m":5,"s":"2025年","v":1960},{"m":6,"s":"2025年","v":4400},{"m":7,"s":"2025年","v":4150},{"m":8,"s":"2025年","v":2270},{"m":9,"s":"2025年","v":3510},{"m":10,"s":"2025年","v":2440}],
"L8":[{"m":1,"s":"2023年","v":1.94},{"m":2,"s":"2023年","v":2.14},{"m":3,"s":"2023年","v":2.14},{"m":4,"s":"2023年","v":1.89},{"m":5,"s":"2023年","v":1.39},{"m":6,"s":"2023年","v":1.73},{"m":7,"s":"2023年","v":1.05},{"m":8,"s":"2023年","v":1.31},{"m":9,"s":"2023年","v":1.75},{"m":10,"s":"2023年","v":1.8},{"m":11,"s":"2023年","v":2.12},{"m":12,"s":"2023年","v":1.8},
{"m":1,"s":"2024年","v":2.14},{"m":2,"s":"2024年","v":1.16},{"m":3,"s":"2024年","v":2.22},{"m":4,"s":"2024年","v":1.55},{"m":5,"s":"2024年","v":1.63},{"m":6,"s":"2024年","v":1.73},{"m":7,"s":"2024年","v":1.57},{"m":8,"s":"2024年","v":1.69},{"m":9,"s":"2024年","v":1.96},{"m":10,"s":"2024年","v":2.23},{"m":11,"s":"2024年","v":2.42},{"m":12,"s":"2024年","v":2.26},
{"m":1,"s":"2025年","v":2.34},{"m":2,"s":"2025年","v":1.81},{"m":3,"s":"2025年","v":2.83},{"m":4,"s":"2025年","v":2.68},{"m":5,"s":"2025年","v":2.52},{"m":6,"s":"2025年","v":2.86},{"m":7,"s":"2025年","v":2.57},{"m":8,"s":"2025年","v":2.46},{"m":9,"s":"2025年","v":2.55},{"m":10,"s":"2025年","v":2.42}],
"Q1":[{"m":1,"s":"2023年","v":2.0},{"m":2,"s":"2023年","v":2.57},{"m":3,"s":"2023年","v":4.58},{"m":4,"s":"2023年","v":3.78},{"m":5,"s":"2023年","v":4.3},{"m":6,"s":"2023年","v":3.68},{"m":7,"s":"2023年","v":3.22},{"m":8,"s":"2023年","v":2.62},{"m":9,"s":"2023年","v":2.92},{"m":10,"s":"2023年","v":3.68},{"m":11,"s":"2023年","v":2.77},{"m":12,"s":"2023年","v":2.32},
{"m":1,"s":"2024年","v":3.85},{"m":2,"s":"2024年","v":1.76},{"m":3,"s":"2024年","v":4.4},{"m":4,"s":"2024年","v":3.93},{"m":5,"s":"2024年","v":4.4},{"m":6,"s":"2024年","v":4.63},{"m":7,"s":"2024年","v":4.03},{"m":8,"s":"2024年","v":3.48},{"m":9,"s":"2024年","v":4.84},{"m":10,"s":"2024年","v":2.47},{"m":11,"s":"2024年","v":3.22},{"m":12,"s":"2024年","v":3.2},
{"m":1,"s":"2025年","v":3.65},{"m":2,"s":"2025年","v":2.12},{"m":3,"s":"2025年","v":3.83},{"m":4,"s":"2025年","v":3.5},{"m":5,"s":"2025年","v":3.65},{"m":6,"s":"2025年","v":3.5},{"m":7,"s":"2025年","v":3.02},{"m":8,"s":"2025年","v":3.43},{"m":9,"s":"2025年","v":3.83},{"m":10,"s":"2025年","v":2.64},{"m":11,"s":"2025年","v":2.96}],
"Q2":[{"m":1,"s":"2023年","v":0.7},{"m":2,"s":"2023年","v":0.78},{"m":3,"s":"2023年","v":1.61},{"m":4,"s":"2023年","v":1.24},{"m":5,"s":"2023年","v":1.7},{"m":6,"s":"2023年","v":1.65},{"m":7,"s":"2023年","v":1.56},{"m":8,"s":"2023年","v":1.11},{"m":9,"s":"2023年","v":1.36},{"m":10,"s":"2023年","v":2.12},{"m":11,"s":"2023年","v":1.83},{"m":12,"s":"2023年","v":1.59},
{"m":1,"s":"2024年","v":2.5},{"m":2,"s":"2024年","v":0.96},{"m":3,"s":"2024年","v":2.75},{"m":4,"s":"2024年","v":1.66},{"m":5,"s":"2024年","v":2.32},{"m":6,"s":"2024年","v":2.24},{"m":7,"s":"2024年","v":1.76},{"m":8,"s":"2024年","v":1.19},{"m":9,"s":"2024年","v":2.52},{"m":10,"s":"2024年","v":0.82},{"m":11,"s":"2024年","v":1.79},{"m":12,"s":"2024年","v":2.22},
{"m":1,"s":"2025年","v":1.61},{"m":2,"s":"2025年","v":0.78},{"m":3,"s":"2025年","v":1.4},{"m":4,"s":"2025年","v":1.4},{"m":5,"s":"2025年","v":1.99},{"m":6,"s":"2025年","v":2.14},{"m":7,"s":"2025年","v":1.76},{"m":8,"s":"2025年","v":2.31},{"m":9,"s":"2025年","v":2.12},{"m":10,"s":"2025年","v":1.84},{"m":11,"s":"2025年","v":2.49}],
"Q3":[{"m":1,"s":"2023年","v":1.32},{"m":2,"s":"2023年","v":1.81},{"m":3,"s":"2023年","v":2.97},{"m":4,"s":"2023年","v":2.57},{"m":5,"s":"2023年","v":2.57},{"m":6,"s":"2023年","v":2.03},{"m":7,"s":"2023年","v":1.72},{"m":8,"s":"2023年","v":1.53},{"m":9,"s":"2023年","v":1.56},{"m":10,"s":"2023年","v":1.62},{"m":11,"s":"2023年","v":0.93},{"m":12,"s":"2023年","v":0.75},
{"m":1,"s":"2024年","v":1.29},{"m":2,"s":"2024年","v":0.75},{"m":3,"s":"2024年","v":1.74},{"m":4,"s":"2024年","v":2.25},{"m":5,"s":"2024年","v":1.91},{"m":6,"s":"2024年","v":2.44},{"m":7,"s":"2024年","v":2.29},{"m":8,"s":"2024年","v":2.19},{"m":9,"s":"2024年","v":2.26},{"m":10,"s":"2024年","v":1.62},{"m":11,"s":"2024年","v":1.41},{"m":12,"s":"2024年","v":1.0},
{"m":1,"s":"2025年","v":2.03},{"m":2,"s":"2025年","v":1.4},{"m":3,"s":"2025年","v":2.44},{"m":4,"s":"2025年","v":2.04},{"m":5,"s":"2025年","v":1.66},{"m":6,"s":"2025年","v":1.32},{"m":7,"s":"2025年","v":1.26},{"m":8,"s":"2025年","v":1.1},{"m":9,"s":"2025年","v":1.63},{"m":10,"s":"2025年","v":0.82},{"m":11,"s":"2025年","v":0.47}],
"Q4":[{"m":1,"s":"2023年","v":0.66},{"m":2,"s":"2023年","v":0.68},{"m":3,"s":"2023年","v":1.56},{"m":4,"s":"2023年","v":1.48},{"m":5,"s":"2023年","v":1.07},{"m":6,"s":"2023年","v":0.74},{"m":7,"s":"2023年","v":0.92},{"m":8,"s":"2023年","v":0.79},{"m":9,"s":"2023年","v":0.79},{"m":10,"s":"2023年","v":0.68},{"m":11,"s":"2023年","v":0.68},{"m":12,"s":"2023年","v":0.67},
{"m":1,"s":"2024年","v":0.96},{"m":2,"s":"2024年","v":0.51},{"m":3,"s":"2024年","v":1.17},{"m":4,"s":"2024年","v":1.45},{"m":5,"s":"2024年","v":1.33},{"m":6,"s":"2024年","v":1.93},{"m":7,"s":"2024年","v":1.56},{"m":8,"s":"2024年","v":1.07},{"m":9,"s":"2024年","v":0.72},{"m":10,"s":"2024年","v":0.78},{"m":11,"s":"2024年","v":0.71},{"m":12,"s":"2024年","v":0.64},
{"m":1,"s":"2025年","v":1.07},{"m":2,"s":"2025年","v":0.6},{"m":3,"s":"2025年","v":1.23},{"m":4,"s":"2025年","v":1.51},{"m":5,"s":"2025年","v":1.4},{"m":6,"s":"2025年","v":1.15},{"m":7,"s":"2025年","v":1.05},{"m":8,"s":"2025年","v":0.87},{"m":9,"s":"2025年","v":1.31},{"m":10,"s":"2025年","v":0.4},{"m":11,"s":"2025年","v":0.41}],
"Q5":[{"m":1,"s":"2023年","v":0.11},{"m":2,"s":"2023年","v":0.12},{"m":3,"s":"2023年","v":0.3},{"m":4,"s":"2023年","v":0.23},{"m":5,"s":"2023年","v":0.27},{"m":6,"s":"2023年","v":0.29},{"m":7,"s":"2023年","v":0.31},{"m":8,"s":"2023年","v":0.28},{"m":9,"s":"2023年","v":0.22},{"m":10,"s":"2023年","v":0.22},{"m":11,"s":"2023年","v":0.37},{"m":12,"s":"2023年","v":0.47},
{"m":1,"s":"2024年","v":0.59},{"m":2,"s":"2024年","v":0.32},{"m":3,"s":"2024年","v":0.39},{"m":4,"s":"2024年","v":0.29},{"m":5,"s":"2024年","v":0.39},{"m":6,"s":"2024年","v":0.51},{"m":7,"s":"2024年","v":0.35},{"m":8,"s":"2024年","v":0.29},{"m":9,"s":"2024年","v":0.17},{"m":10,"s":"2024年","v":0.24},{"m":11,"s":"2024年","v":0.11},{"m":12,"s":"2024年","v":0.29},
{"m":1,"s":"2025年","v":0.6},{"m":2,"s":"2025年","v":0.24},{"m":3,"s":"2025年","v":0.36},{"m":4,"s":"2025年","v":0.42},{"m":5,"s":"2025年","v":0.53},{"m":6,"s":"2025年","v":0.52},{"m":7,"s":"2025年","v":0.45},{"m":8,"s":"2025年","v":0.34},{"m":9,"s":"2025年","v":0.73},{"m":10,"s":"2025年","v":0.19},{"m":11,"s":"2025年","v":0.29}],
"Q6":[{"m":1,"s":"2023年","v":0.55},{"m":2,"s":"2023年","v":0.56},{"m":3,"s":"2023年","v":1.26},{"m":4,"s":"2023年","v":1.24},{"m":5,"s":"2023年","v":0.78},{"m":6,"s":"2023年","v":0.44},{"m":7,"s":"2023年","v":0.6},{"m":8,"s":"2023年","v":0.52},{"m":9,"s":"2023年","v":0.55},{"m":10,"s":"2023年","v":0.43},{"m":11,"s":"2023年","v":0.29},{"m":12,"s":"2023年","v":0.18},
{"m":1,"s":"2024年","v":0.35},{"m":2,"s":"2024年","v":0.17},{"m":3,"s":"2024年","v":0.75},{"m":4,"s":"2024年","v":1.19},{"m":5,"s":"2024年","v":0.93},{"m":6,"s":"2024年","v":1.39},{"m":7,"s":"2024年","v":1.21},{"m":8,"s":"2024年","v":0.78},{"m":9,"s":"2024年","v":0.57},{"m":10,"s":"2024年","v":0.52},{"m":11,"s":"2024年","v":0.56},{"m":12,"s":"2024年","v":0.33},
{"m":1,"s":"2025年","v":0.46},{"m":2,"s":"2025年","v":0.37},{"m":3,"s":"2025年","v":0.89},{"m":4,"s":"2025年","v":1.08},{"m":5,"s":"2025年","v":0.87},{"m":6,"s":"2025年","v":0.62},{"m":7,"s":"2025年","v":0.58},{"m":8,"s":"2025年","v":0.54},{"m":9,"s":"2025年","v":0.56},{"m":10,"s":"2025年","v":0.21},{"m":11,"s":"2025年","v":0.13}],
"Z1":[{"m":1,"s":"2024年","v":4.5},{"m":2,"s":"2024年","v":2.8},{"m":3,"s":"2024年","v":3.75},{"m":4,"s":"2024年","v":5.0},{"m":5,"s":"2024年","v":5.35},{"m":6,"s":"2024年","v":4.8},{"m":7,"s":"2024年","v":5.1},{"m":8,"s":"2024年","v":3.9},{"m":9,"s":"2024年","v":5.2},{"m":10,"s":"2024年","v":4.7},{"m":11,"s":"2024年","v":5.05},{"m":12,"s":"2024年","v":5.05},
{"m":1,"s":"2025年","v":5.33},{"m":2,"s":"2025年","v":4.6},{"m":3,"s":"2025年","v":5.2},{"m":4,"s":"2025年","v":5.58},{"m":5,"s":"2025年","v":5.78},{"m":6,"s":"2025年","v":6.0},{"m":7,"s":"2025年","v":5.95},{"m":8,"s":"2025年","v":4.65},{"m":9,"s":"2025年","v":5.45},{"m":10,"s":"2025年","v":4.85},{"m":11,"s":"2025年","v":5.32}],
"Z2":[{"m":1,"s":"2024年","v":4.2},{"m":2,"s":"2024年","v":2.45},{"m":3,"s":"2024年","v":2.95},{"m":4,"s":"2024年","v":4.1},{"m":5,"s":"2024年","v":4.58},{"m":6,"s":"2024年","v":3.85},{"m":7,"s":"2024年","v":4.3},{"m":8,"s":"2024年","v":3.3},{"m":9,"s":"2024年","v":4.78},{"m":10,"s":"2024年","v":4.24},{"m":11,"s":"2024年","v":4.75},{"m":12,"s":"2024年","v":4.7},
{"m":1,"s":"2025年","v":5.07},{"m":2,"s":"2025年","v":3.92},{"m":3,"s":"2025年","v":4.53},{"m":4,"s":"2025年","v":5.05},{"m":5,"s":"2025年","v":5.27},{"m":6,"s":"2025年","v":5.51},{"m":7,"s":"2025年","v":5.44},{"m":8,"s":"2025年","v":4.19},{"m":9,"s":"2025年","v":5.07},{"m":10,"s":"2025年","v":4.46},{"m":11,"s":"2025年","v":5.1}],
"Z3":[{"m":1,"s":"2024年","v":0.33},{"m":2,"s":"2024年","v":0.36},{"m":3,"s":"2024年","v":0.8},{"m":4,"s":"2024年","v":0.95},{"m":5,"s":"2024年","v":0.78},{"m":6,"s":"2024年","v":0.95},{"m":7,"s":"2024年","v":0.78},{"m":8,"s":"2024年","v":0.61},{"m":9,"s":"2024年","v":0.5},{"m":10,"s":"2024年","v":0.43},{"m":11,"s":"2024年","v":0.32},{"m":12,"s":"2024年","v":0.39},
{"m":1,"s":"2025年","v":0.27},{"m":2,"s":"2025年","v":0.69},{"m":3,"s":"2025年","v":0.71},{"m":4,"s":"2025年","v":0.52},{"m":5,"s":"2025年","v":0.52},{"m":6,"s":"2025年","v":0.52},{"m":7,"s":"2025年","v":0.57},{"m":8,"s":"2025年","v":0.46},{"m":9,"s":"2025年","v":0.38},{"m":10,"s":"2025年","v":0.27},{"m":11,"s":"2025年","v":0.21}],
"Z4":[{"m":1,"s":"2024年","v":0.05},{"m":2,"s":"2024年","v":0.07},{"m":3,"s":"2024年","v":0.1},{"m":4,"s":"2024年","v":0.79},{"m":5,"s":"2024年","v":0.19},{"m":6,"s":"2024年","v":0.1},{"m":7,"s":"2024年","v":0.31},{"m":8,"s":"2024年","v":0.31},{"m":9,"s":"2024年","v":0.92},{"m":10,"s":"2024年","v":1.03},{"m":11,"s":"2024年","v":0.39},{"m":12,"s":"2024年","v":0.4},
{"m":1,"s":"2025年","v":0.18},{"m":2,"s":"2025年","v":0.96},{"m":3,"s":"2025年","v":0.79},{"m":4,"s":"2025年","v":0.39},{"m":5,"s":"2025年","v":0.27},{"m":6,"s":"2025年","v":0.43},{"m":7,"s":"2025年","v":0.33},{"m":8,"s":"2025年","v":0.17},{"m":9,"s":"2025年","v":0.57},{"m":10,"s":"2025年","v":0.31},{"m":11,"s":"2025年","v":0.14}],
"Z5":[{"m":1,"s":"2024年","v":0.0},{"m":2,"s":"2024年","v":0.0},{"m":3,"s":"2024年","v":0.01},{"m":4,"s":"2024年","v":0.73},{"m":5,"s":"2024年","v":0.14},{"m":6,"s":"2024年","v":0.07},{"m":7,"s":"2024年","v":0.28},{"m":8,"s":"2024年","v":0.18},{"m":9,"s":"2024年","v":0.91},{"m":10,"s":"2024年","v":1.02},{"m":11,"s":"2024年","v":0.35},{"m":12,"s":"2024年","v":0.34},
{"m":1,"s":"2025年","v":0.09},{"m":2,"s":"2025年","v":0.88},{"m":3,"s":"2025年","v":0.61},{"m":4,"s":"2025年","v":0.2},{"m":5,"s":"2025年","v":0.17},{"m":6,"s":"2025年","v":0.35},{"m":7,"s":"2025年","v":0.3},{"m":8,"s":"2025年","v":0.15},{"m":9,"s":"2025年","v":0.55},{"m":10,"s":"2025年","v":0.31},{"m":11,"s":"2025年","v":0.13}],
"Z6":[{"m":1,"s":"2024年","v":0.039},{"m":2,"s":"2024年","v":0.064},{"m":3,"s":"2024年","v":0.091},{"m":4,"s":"2024年","v":0.056},{"m":5,"s":"2024年","v":0.049},{"m":6,"s":"2024年","v":0.036},{"m":7,"s":"2024年","v":0.023},{"m":8,"s":"2024年","v":0.131},{"m":9,"s":"2024年","v":0.013},{"m":10,"s":"2024年","v":0.015},{"m":11,"s":"2024年","v":0.03},{"m":12,"s":"2024年","v":0.061},
{"m":1,"s":"2025年","v":0.083},{"m":2,"s":"2025年","v":0.087},{"m":3,"s":"2025年","v":0.178},{"m":4,"s":"2025年","v":0.193},{"m":5,"s":"2025年","v":0.099},{"m":6,"s":"2025年","v":0.077},{"m":7,"s":"2025年","v":0.025},{"m":8,"s":"2025年","v":0.022},{"m":9,"s":"2025年","v":0.01},{"m":10,"s":"2025年","v":0.005},{"m":11,"s":"2025年","v":0.003}],
"Z7":[{"m":1,"s":"2024年","v":6.5},{"m":2,"s":"2024年","v":3.75},{"m":3,"s":"2024年","v":8.9},{"m":4,"s":"2024年","v":8.95},{"m":5,"s":"2024年","v":8.0},{"m":6,"s":"2024年","v":8.35},{"m":7,"s":"2024年","v":7.75},{"m":8,"s":"2024年","v":8.2},{"m":9,"s":"2024年","v":8.9},{"m":10,"s":"2024年","v":9.4},{"m":11,"s":"2024年","v":9.2},{"m":12,"s":"2024年","v":10.3},
{"m":1,"s":"2025年","v":6.05},{"m":2,"s":"2025年","v":5.2},{"m":3,"s":"2025年","v":9.5},{"m":4,"s":"2025年","v":9.65},{"m":5,"s":"2025年","v":8.65},{"m":6,"s":"2025年","v":7.75},{"m":7,"s":"2025年","v":7.45},{"m":8,"s":"2025年","v":7.85},{"m":9,"s":"2025年","v":8.65},{"m":10,"s":"2025年","v":8.6},{"m":11,"s":"2025年","v":7.95}]
},
"columns":1,"align":"none","spacing":0,
"resolve":{"scale":{"color":"independent","shape":"independent","stroke":"independent"},"legend":{"color":"independent","shape":"independent","stroke":"independent"}},
"concat":[
{"columns":1,"align":"none","spacing":0,"concat":[
 {"align":"none","spacing":0,"concat":[
  {"width":63,"height":10,"data":{"values":[]},"mark":"point"},
  {"width":138,"height":23,"view":{"fill":"#FFC000","stroke":"#EDB200"},"data":{"values":[{"h":""}]},"mark":"text","encoding":{"text":{"field":"h"}}},
  {"width":71,"height":23,"view":{"fill":"#FFC000","stroke":"#EDB200"},"data":{"values":[{"h":"11月当月值\n(万辆)"}]},"mark":{"type":"text","fontWeight":"bold","lineBreak":"\n","lineHeight":10.5},"encoding":{"text":{"field":"h"}}},
  {"width":72,"height":23,"view":{"fill":"#FFC000","stroke":"#EDB200"},"data":{"values":[{"h":"当月同比"}]},"mark":{"type":"text","fontWeight":"bold"},"encoding":{"text":{"field":"h"}}},
  {"width":71,"height":23,"view":{"fill":"#FFC000","stroke":"#EDB200"},"data":{"values":[{"h":"当月环比"}]},"mark":{"type":"text","fontWeight":"bold"},"encoding":{"text":{"field":"h"}}},
  {"width":71,"height":23,"view":{"fill":"#FFC000","stroke":"#EDB200"},"data":{"values":[{"h":"11月累计值\n(万辆)"}]},"mark":{"type":"text","fontWeight":"bold","lineBreak":"\n","lineHeight":10.5},"encoding":{"text":{"field":"h"}}},
  {"width":70,"height":23,"view":{"fill":"#FFC000","stroke":"#EDB200"},"data":{"values":[{"h":"累计同比"}]},"mark":{"type":"text","fontWeight":"bold"},"encoding":{"text":{"field":"h"}}}
 ]},
 {"align":"none","spacing":0,"concat":[
  {"width":63,"height":10,"data":{"values":[]},"mark":"point"},
  {"width":45,"height":616,"view":{"stroke":"#D6D2C4"},"data":{"name":"tbl"},
   "transform":[{"aggregate":[{"op":"mean","field":"r","as":"rm"},{"op":"max","field":"r","as":"rx"}],"groupby":["co"]}],
   "layer":[
    {"mark":{"type":"rule","color":"#404040","strokeWidth":1.3,"yOffset":7.9},"encoding":{"y":{"field":"rx","type":"quantitative","title":null,"scale":{"domain":[0.5,39.5],"reverse":true,"nice":false,"zero":false},"axis":null}}},
    {"mark":{"type":"text","fontWeight":"bold","fontSize":8.5},"encoding":{"y":{"field":"rm","type":"quantitative","title":null,"scale":{"domain":[0.5,39.5],"reverse":true,"nice":false,"zero":false},"axis":null},"text":{"field":"co"}}}
   ]},
  {"width":51,"height":616,"view":{"stroke":"#D6D2C4"},"data":{"name":"tbl"},
   "layer":[
    {"transform":[{"aggregate":[{"op":"max","field":"r","as":"rx"}],"groupby":["co","cat"]}],"mark":{"type":"rule","color":"#D6D2C4","yOffset":7.9},"encoding":{"y":{"field":"rx","type":"quantitative","title":null,"scale":{"domain":[0.5,39.5],"reverse":true,"nice":false,"zero":false},"axis":null}}},
    {"transform":[{"aggregate":[{"op":"max","field":"r","as":"rx"}],"groupby":["co"]}],"mark":{"type":"rule","color":"#404040","strokeWidth":1.3,"yOffset":7.9},"encoding":{"y":{"field":"rx","type":"quantitative","title":null,"axis":null}}},
    {"transform":[{"filter":"datum.met !== ''"},{"aggregate":[{"op":"mean","field":"r","as":"rm"}],"groupby":["co","cat"]}],"mark":{"type":"text","fontWeight":"bold","lineBreak":"\n","lineHeight":11},"encoding":{"y":{"field":"rm","type":"quantitative","title":null,"axis":null},"text":{"field":"cat"}}}
   ]},
  {"width":40,"height":616,"view":{"stroke":"#D6D2C4"},"data":{"name":"tbl"},
   "layer":[
    {"mark":{"type":"rule","color":"#D6D2C4","yOffset":7.9},"encoding":{"y":{"field":"r","type":"quantitative","title":null,"scale":{"domain":[0.5,39.5],"reverse":true,"nice":false,"zero":false},"axis":null}}},
    {"transform":[{"aggregate":[{"op":"max","field":"r","as":"rx"}],"groupby":["co"]}],"mark":{"type":"rule","color":"#404040","strokeWidth":1.3,"yOffset":7.9},"encoding":{"y":{"field":"rx","type":"quantitative","title":null,"axis":null}}},
    {"transform":[{"filter":"datum.met !== ''"}],"mark":{"type":"text","fontWeight":"bold"},"encoding":{"y":{"field":"r","type":"quantitative","title":null,"axis":null},"text":{"field":"met"}}},
    {"transform":[{"filter":"datum.met === ''"}],"mark":{"type":"text","fontWeight":"bold","dx":-27},"encoding":{"y":{"field":"r","type":"quantitative","title":null,"axis":null},"text":{"field":"cat"}}}
   ]},
  {"width":71,"height":616,"view":{"stroke":"#D6D2C4"},"data":{"name":"tbl"},
   "layer":[
    {"mark":{"type":"rule","color":"#D6D2C4","yOffset":7.9},"encoding":{"y":{"field":"r","type":"quantitative","title":null,"scale":{"domain":[0.5,39.5],"reverse":true,"nice":false,"zero":false},"axis":null}}},
    {"transform":[{"aggregate":[{"op":"max","field":"r","as":"rx"}],"groupby":["co"]}],"mark":{"type":"rule","color":"#404040","strokeWidth":1.3,"yOffset":7.9},"encoding":{"y":{"field":"rx","type":"quantitative","title":null,"axis":null}}},
    {"mark":{"type":"text"},"encoding":{"y":{"field":"r","type":"quantitative","title":null,"axis":null},"text":{"field":"val"}}}
   ]},
  {"width":72,"height":616,"view":{"stroke":"#D6D2C4"},"data":{"name":"tbl"},
   "layer":[
    {"mark":{"type":"rule","color":"#D6D2C4","yOffset":7.9},"encoding":{"x":{"datum":-0.887,"type":"quantitative","scale":{"domain":[-0.887,1.547],"nice":false,"zero":false},"axis":{"labels":false,"grid":false,"title":null,"minExtent":31,"maxExtent":31}},"x2":{"datum":1.547},"y":{"field":"r","type":"quantitative","title":null,"scale":{"domain":[0.5,39.5],"reverse":true,"nice":false,"zero":false},"axis":null}}},
    {"transform":[{"aggregate":[{"op":"max","field":"r","as":"rx"}],"groupby":["co"]}],"mark":{"type":"rule","color":"#404040","strokeWidth":1.3,"yOffset":7.9},"encoding":{"x":{"datum":-0.887,"type":"quantitative","axis":{"labels":false,"grid":false,"title":null,"minExtent":31,"maxExtent":31}},"x2":{"datum":1.547},"y":{"field":"rx","type":"quantitative","title":null,"axis":null}}},
    {"transform":[{"filter":"datum.yoy > 0"}],"mark":{"type":"rect","yOffset":-6.8,"y2Offset":6.8,"fill":{"gradient":"linear","x1":0,"x2":1,"y1":0,"y2":0,"stops":[{"offset":0,"color":"#E3262B"},{"offset":1,"color":"#FCE0E0"}]}},"encoding":{"x":{"field":"yoy","type":"quantitative","axis":{"labels":false,"grid":false,"title":null,"minExtent":31,"maxExtent":31}},"x2":{"datum":0},"y":{"field":"r","type":"quantitative","title":null,"axis":null},"y2":{"field":"r"}}},
    {"transform":[{"filter":"datum.yoy < 0"}],"mark":{"type":"rect","yOffset":-6.8,"y2Offset":6.8,"fill":{"gradient":"linear","x1":0,"x2":1,"y1":0,"y2":0,"stops":[{"offset":0,"color":"#EEF6EA"},{"offset":1,"color":"#6DAF4C"}]}},"encoding":{"x":{"field":"yoy","type":"quantitative","axis":{"labels":false,"grid":false,"title":null,"minExtent":31,"maxExtent":31}},"x2":{"datum":0},"y":{"field":"r","type":"quantitative","title":null,"axis":null},"y2":{"field":"r"}}},
    {"mark":{"type":"text","align":"left","dx":1.5},"encoding":{"x":{"datum":0,"type":"quantitative","axis":{"labels":false,"grid":false,"title":null,"minExtent":31,"maxExtent":31}},"y":{"field":"r","type":"quantitative","title":null,"axis":null},"text":{"field":"yt"},"color":{"condition":{"test":"datum.yoy === null","value":"#C0504D"},"value":"#1A1A1A"}}}
   ]},
  {"width":71,"height":616,"view":{"stroke":"#D6D2C4"},"data":{"name":"tbl"},
   "layer":[
    {"mark":{"type":"rule","color":"#D6D2C4","yOffset":7.9},"encoding":{"x":{"datum":-0.572,"type":"quantitative","scale":{"domain":[-0.572,0.96],"nice":false,"zero":false},"axis":null},"x2":{"datum":0.96},"y":{"field":"r","type":"quantitative","title":null,"scale":{"domain":[0.5,39.5],"reverse":true,"nice":false,"zero":false},"axis":null}}},
    {"transform":[{"aggregate":[{"op":"max","field":"r","as":"rx"}],"groupby":["co"]}],"mark":{"type":"rule","color":"#404040","strokeWidth":1.3,"yOffset":7.9},"encoding":{"x":{"datum":-0.572,"type":"quantitative","axis":null},"x2":{"datum":0.96},"y":{"field":"rx","type":"quantitative","title":null,"axis":null}}},
    {"transform":[{"filter":"datum.mom > 0"}],"mark":{"type":"rect","yOffset":-6.8,"y2Offset":6.8,"fill":{"gradient":"linear","x1":0,"x2":1,"y1":0,"y2":0,"stops":[{"offset":0,"color":"#E3262B"},{"offset":1,"color":"#FCE0E0"}]}},"encoding":{"x":{"field":"mom","type":"quantitative","axis":null},"x2":{"datum":0},"y":{"field":"r","type":"quantitative","title":null,"axis":null},"y2":{"field":"r"}}},
    {"transform":[{"filter":"datum.mom < 0"}],"mark":{"type":"rect","yOffset":-6.8,"y2Offset":6.8,"fill":{"gradient":"linear","x1":0,"x2":1,"y1":0,"y2":0,"stops":[{"offset":0,"color":"#EEF6EA"},{"offset":1,"color":"#6DAF4C"}]}},"encoding":{"x":{"field":"mom","type":"quantitative","axis":null},"x2":{"datum":0},"y":{"field":"r","type":"quantitative","title":null,"axis":null},"y2":{"field":"r"}}},
    {"mark":{"type":"text","align":"left","dx":1.5},"encoding":{"x":{"datum":0,"type":"quantitative","axis":null},"y":{"field":"r","type":"quantitative","title":null,"axis":null},"text":{"field":"mt"}}}
   ]},
  {"width":71,"height":616,"view":{"stroke":"#D6D2C4"},"data":{"name":"tbl"},
   "layer":[
    {"mark":{"type":"rule","color":"#D6D2C4","yOffset":7.9},"encoding":{"y":{"field":"r","type":"quantitative","title":null,"scale":{"domain":[0.5,39.5],"reverse":true,"nice":false,"zero":false},"axis":null}}},
    {"transform":[{"aggregate":[{"op":"max","field":"r","as":"rx"}],"groupby":["co"]}],"mark":{"type":"rule","color":"#404040","strokeWidth":1.3,"yOffset":7.9},"encoding":{"y":{"field":"rx","type":"quantitative","title":null,"axis":null}}},
    {"mark":{"type":"text"},"encoding":{"y":{"field":"r","type":"quantitative","title":null,"axis":null},"text":{"field":"cum"}}}
   ]},
  {"width":70,"height":616,"view":{"stroke":"#D6D2C4"},"data":{"name":"tbl"},
   "layer":[
    {"mark":{"type":"rule","color":"#D6D2C4","yOffset":7.9},"encoding":{"x":{"datum":-0.853,"type":"quantitative","scale":{"domain":[-0.853,1.513],"nice":false,"zero":false},"axis":null},"x2":{"datum":1.513},"y":{"field":"r","type":"quantitative","title":null,"scale":{"domain":[0.5,39.5],"reverse":true,"nice":false,"zero":false},"axis":null}}},
    {"transform":[{"aggregate":[{"op":"max","field":"r","as":"rx"}],"groupby":["co"]}],"mark":{"type":"rule","color":"#404040","strokeWidth":1.3,"yOffset":7.9},"encoding":{"x":{"datum":-0.853,"type":"quantitative","axis":null},"x2":{"datum":1.513},"y":{"field":"rx","type":"quantitative","title":null,"axis":null}}},
    {"transform":[{"filter":"datum.cy > 0"}],"mark":{"type":"rect","yOffset":-6.8,"y2Offset":6.8,"fill":{"gradient":"linear","x1":0,"x2":1,"y1":0,"y2":0,"stops":[{"offset":0,"color":"#E3262B"},{"offset":1,"color":"#FCE0E0"}]}},"encoding":{"x":{"field":"cy","type":"quantitative","axis":null},"x2":{"datum":0},"y":{"field":"r","type":"quantitative","title":null,"axis":null},"y2":{"field":"r"}}},
    {"transform":[{"filter":"datum.cy < 0"}],"mark":{"type":"rect","yOffset":-6.8,"y2Offset":6.8,"fill":{"gradient":"linear","x1":0,"x2":1,"y1":0,"y2":0,"stops":[{"offset":0,"color":"#EEF6EA"},{"offset":1,"color":"#6DAF4C"}]}},"encoding":{"x":{"field":"cy","type":"quantitative","axis":null},"x2":{"datum":0},"y":{"field":"r","type":"quantitative","title":null,"axis":null},"y2":{"field":"r"}}},
    {"mark":{"type":"text","align":"left","dx":1.5},"encoding":{"x":{"datum":0,"type":"quantitative","axis":null},"y":{"field":"r","type":"quantitative","title":null,"axis":null},"text":{"field":"ct"},"color":{"condition":{"test":"datum.cy === null","value":"#C0504D"},"value":"#1A1A1A"}}}
   ]}
 ]}
]},
{"align":"none","spacing":0,"concat":[
 {"width":201,"height":10,"data":{"values":[]},"mark":"point"},
 {"width":217,"height":22,"view":{"fill":"#FFC000","stroke":null},"data":{"values":[{"t":"行业数据"}]},"mark":{"type":"text","fontWeight":"bold","fontSize":11,"color":"#1A1A1A"},"encoding":{"text":{"field":"t"},"x":{"field":"t","type":"nominal","title":null,"axis":{"labels":false,"grid":false,"minExtent":9,"maxExtent":9}}}}
]},
{"align":"none","spacing":14,"resolve":{"scale":{"color":"independent","shape":"independent","stroke":"independent"},"legend":{"color":"independent","shape":"independent","stroke":"independent"}},"concat":[
 {"width":193,"height":81,"title":"燃油二轮摩托车总销量（万辆）","data":{"name":"I1"},"encoding":{"x":{"field":"m","type":"ordinal","title":null,"scale":{"domain":[1,2,3,4,5,6,7,8,9,10,11,12]},"axis":{"labelExpr":"datum.value + '月'","minExtent":55,"maxExtent":55}},"y":{"field":"v","type":"quantitative","title":null,"scale":{"domain":[0,200],"nice":false},"axis":{"values":[0,50,100,150,200],"format":"~f","minExtent":50,"maxExtent":50}}},"layer":[{"mark":"line","encoding":{"stroke":{"field":"s","type":"nominal","scale":{"domain":["2025年","2024年","2023年"],"range":["#9E1A20","#F2BE45","#ED7D31"]},"legend":null}}},{"mark":"point","encoding":{"color":{"field":"s","type":"nominal","scale":{"domain":["2023年","2024年","2025年"],"range":["#ED7D31","#F2BE45","#9E1A20"]},"legend":{"title":null,"legendX":25,"legendY":105}},"shape":{"field":"s","type":"nominal","scale":{"domain":["2023年","2024年","2025年"],"range":["square","diamond","triangle-up"]},"legend":{"title":null,"legendX":25,"legendY":105}}}}]},
 {"width":194,"height":81,"title":"燃油二轮摩托车出口销量（万辆）","data":{"name":"I2"},"encoding":{"x":{"field":"m","type":"ordinal","title":null,"scale":{"domain":[1,2,3,4,5,6,7,8,9,10,11,12]},"axis":{"labelExpr":"datum.value + '月'","minExtent":55,"maxExtent":55}},"y":{"field":"v","type":"quantitative","title":null,"scale":{"domain":[0,140],"nice":false},"axis":{"values":[0,20,40,60,80,100,120,140],"format":"~f","minExtent":24,"maxExtent":24}}},"layer":[{"mark":"line","encoding":{"stroke":{"field":"s","type":"nominal","scale":{"domain":["2025年","2024年","2023年"],"range":["#9E1A20","#F2BE45","#ED7D31"]},"legend":null}}},{"mark":"point","encoding":{"color":{"field":"s","type":"nominal","scale":{"domain":["2023年","2024年","2025年"],"range":["#ED7D31","#F2BE45","#9E1A20"]},"legend":{"title":null,"legendX":25,"legendY":105}},"shape":{"field":"s","type":"nominal","scale":{"domain":["2023年","2024年","2025年"],"range":["square","diamond","triangle-up"]},"legend":{"title":null,"legendX":25,"legendY":105}}}}]},
 {"width":196,"height":81,"title":"燃油二轮摩托车内销销量（万辆）","data":{"name":"I3"},"encoding":{"x":{"field":"m","type":"ordinal","title":null,"scale":{"domain":[1,2,3,4,5,6,7,8,9,10,11,12]},"axis":{"labelExpr":"datum.value + '月'","minExtent":55,"maxExtent":55}},"y":{"field":"v","type":"quantitative","title":null,"scale":{"domain":[0,60],"nice":false},"axis":{"values":[0,10,20,30,40,50,60],"format":"~f","minExtent":23,"maxExtent":23}}},"layer":[{"mark":"line","encoding":{"stroke":{"field":"s","type":"nominal","scale":{"domain":["2025年","2024年","2023年"],"range":["#9E1A20","#F2BE45","#ED7D31"]},"legend":null}}},{"mark":"point","encoding":{"color":{"field":"s","type":"nominal","scale":{"domain":["2023年","2024年","2025年"],"range":["#ED7D31","#F2BE45","#9E1A20"]},"legend":{"title":null,"legendX":27,"legendY":105}},"shape":{"field":"s","type":"nominal","scale":{"domain":["2023年","2024年","2025年"],"range":["square","diamond","triangle-up"]},"legend":{"title":null,"legendX":27,"legendY":105}}}}]}
]},
{"align":"none","spacing":14,"resolve":{"scale":{"color":"independent","shape":"independent","stroke":"independent"},"legend":{"color":"independent","shape":"independent","stroke":"independent"}},"concat":[
 {"width":193,"height":81,"title":"250cc+摩托总销量（万辆）","data":{"name":"I4"},"encoding":{"x":{"field":"m","type":"ordinal","title":null,"scale":{"domain":[1,2,3,4,5,6,7,8,9,10,11,12]},"axis":{"labelExpr":"datum.value + '月'","minExtent":58,"maxExtent":58}},"y":{"field":"v","type":"quantitative","title":null,"scale":{"domain":[0,12],"nice":false},"axis":{"values":[0,2,4,6,8,10,12],"format":"~f","minExtent":50,"maxExtent":50}}},"layer":[{"mark":"line","encoding":{"stroke":{"field":"s","type":"nominal","scale":{"domain":["2025年","2024年","2023年"],"range":["#9E1A20","#F2BE45","#ED7D31"]},"legend":null}}},{"mark":"point","encoding":{"color":{"field":"s","type":"nominal","scale":{"domain":["2023年","2024年","2025年"],"range":["#ED7D31","#F2BE45","#9E1A20"]},"legend":{"title":null,"legendX":25,"legendY":105}},"shape":{"field":"s","type":"nominal","scale":{"domain":["2023年","2024年","2025年"],"range":["square","diamond","triangle-up"]},"legend":{"title":null,"legendX":25,"legendY":105}}}}]},
 {"width":194,"height":81,"title":"250cc+摩托出口销量（万辆）","data":{"name":"I5"},"encoding":{"x":{"field":"m","type":"ordinal","title":null,"scale":{"domain":[1,2,3,4,5,6,7,8,9,10,11,12]},"axis":{"labelExpr":"datum.value + '月'","minExtent":58,"maxExtent":58}},"y":{"field":"v","type":"quantitative","title":null,"scale":{"domain":[0,6],"nice":false},"axis":{"values":[0,1,2,3,4,5,6],"format":"~f","minExtent":24,"maxExtent":24}}},"layer":[{"mark":"line","encoding":{"stroke":{"field":"s","type":"nominal","scale":{"domain":["2025年","2024年","2023年"],"range":["#9E1A20","#F2BE45","#ED7D31"]},"legend":null}}},{"mark":"point","encoding":{"color":{"field":"s","type":"nominal","scale":{"domain":["2023年","2024年","2025年"],"range":["#ED7D31","#F2BE45","#9E1A20"]},"legend":{"title":null,"legendX":25,"legendY":105}},"shape":{"field":"s","type":"nominal","scale":{"domain":["2023年","2024年","2025年"],"range":["square","diamond","triangle-up"]},"legend":{"title":null,"legendX":25,"legendY":105}}}}]},
 {"width":196,"height":81,"title":"250cc+摩托内销销量（万辆）","data":{"name":"I6"},"encoding":{"x":{"field":"m","type":"ordinal","title":null,"scale":{"domain":[1,2,3,4,5,6,7,8,9,10,11,12]},"axis":{"labelExpr":"datum.value + '月'","minExtent":58,"maxExtent":58}},"y":{"field":"v","type":"quantitative","title":null,"scale":{"domain":[0,6],"nice":false},"axis":{"values":[0,1,2,3,4,5,6],"format":"~f","minExtent":23,"maxExtent":23}}},"layer":[{"mark":"line","encoding":{"stroke":{"field":"s","type":"nominal","scale":{"domain":["2025年","2024年","2023年"],"range":["#9E1A20","#F2BE45","#ED7D31"]},"legend":null}}},{"mark":"point","encoding":{"color":{"field":"s","type":"nominal","scale":{"domain":["2023年","2024年","2025年"],"range":["#ED7D31","#F2BE45","#9E1A20"]},"legend":{"title":null,"legendX":27,"legendY":105}},"shape":{"field":"s","type":"nominal","scale":{"domain":["2023年","2024年","2025年"],"range":["square","diamond","triangle-up"]},"legend":{"title":null,"legendX":27,"legendY":105}}}}]}
]},
{"align":"none","spacing":0,"concat":[
 {"width":201,"height":10,"data":{"values":[]},"mark":"point"},
 {"width":217,"height":22,"view":{"fill":"#FFC000","stroke":null},"data":{"values":[{"t":"春风动力"}]},"mark":{"type":"text","fontWeight":"bold","fontSize":11,"color":"#1A1A1A"},"encoding":{"text":{"field":"t"},"x":{"field":"t","type":"nominal","title":null,"axis":{"labels":false,"grid":false,"minExtent":20,"maxExtent":20}}}}
]},
{"align":"none","spacing":14,"resolve":{"scale":{"color":"independent","shape":"independent","stroke":"independent"},"legend":{"color":"independent","shape":"independent","stroke":"independent"}},"concat":[
 {"width":193,"height":81,"title":"春风燃油摩托总销量（万辆）","data":{"name":"C1"},"encoding":{"x":{"field":"m","type":"ordinal","title":null,"scale":{"domain":[1,2,3,4,5,6,7,8,9,10,11,12]},"axis":{"labelExpr":"datum.value + '月'","minExtent":56,"maxExtent":56}},"y":{"field":"v","type":"quantitative","title":null,"scale":{"domain":[0,4],"nice":false},"axis":{"values":[0,0.5,1,1.5,2,2.5,3,3.5,4],"format":"~f","minExtent":50,"maxExtent":50}}},"layer":[{"mark":"line","encoding":{"stroke":{"field":"s","type":"nominal","scale":{"domain":["2025年","2024年","2023年"],"range":["#9E1A20","#F2BE45","#ED7D31"]},"legend":null}}},{"mark":"point","encoding":{"color":{"field":"s","type":"nominal","scale":{"domain":["2023年","2024年","2025年"],"range":["#ED7D31","#F2BE45","#9E1A20"]},"legend":{"title":null,"legendX":25,"legendY":105}},"shape":{"field":"s","type":"nominal","scale":{"domain":["2023年","2024年","2025年"],"range":["square","diamond","triangle-up"]},"legend":{"title":null,"legendX":25,"legendY":105}}}}]},
 {"width":194,"height":81,"title":"春风燃油摩托出口销量（万辆）","data":{"name":"C2"},"encoding":{"x":{"field":"m","type":"ordinal","title":null,"scale":{"domain":[1,2,3,4,5,6,7,8,9,10,11,12]},"axis":{"labelExpr":"datum.value + '月'","minExtent":56,"maxExtent":56}},"y":{"field":"v","type":"quantitative","title":null,"scale":{"domain":[0,2.5],"nice":false},"axis":{"values":[0,0.5,1,1.5,2,2.5],"format":"~f","minExtent":24,"maxExtent":24}}},"layer":[{"mark":"line","encoding":{"stroke":{"field":"s","type":"nominal","scale":{"domain":["2025年","2024年","2023年"],"range":["#9E1A20","#F2BE45","#ED7D31"]},"legend":null}}},{"mark":"point","encoding":{"color":{"field":"s","type":"nominal","scale":{"domain":["2023年","2024年","2025年"],"range":["#ED7D31","#F2BE45","#9E1A20"]},"legend":{"title":null,"legendX":25,"legendY":105}},"shape":{"field":"s","type":"nominal","scale":{"domain":["2023年","2024年","2025年"],"range":["square","diamond","triangle-up"]},"legend":{"title":null,"legendX":25,"legendY":105}}}}]},
 {"width":196,"height":81,"title":"春风燃油摩托内销销量（万辆）","data":{"name":"C3"},"encoding":{"x":{"field":"m","type":"ordinal","title":null,"scale":{"domain":[1,2,3,4,5,6,7,8,9,10,11,12]},"axis":{"labelExpr":"datum.value + '月'","minExtent":56,"maxExtent":56}},"y":{"field":"v","type":"quantitative","title":null,"scale":{"domain":[0,2],"nice":false},"axis":{"values":[0,0.5,1,1.5,2],"format":"~f","minExtent":23,"maxExtent":23}}},"layer":[{"mark":"line","encoding":{"stroke":{"field":"s","type":"nominal","scale":{"domain":["2025年","2024年","2023年"],"range":["#9E1A20","#F2BE45","#ED7D31"]},"legend":null}}},{"mark":"point","encoding":{"color":{"field":"s","type":"nominal","scale":{"domain":["2023年","2024年","2025年"],"range":["#ED7D31","#F2BE45","#9E1A20"]},"legend":{"title":null,"legendX":27,"legendY":105}},"shape":{"field":"s","type":"nominal","scale":{"domain":["2023年","2024年","2025年"],"range":["square","diamond","triangle-up"]},"legend":{"title":null,"legendX":27,"legendY":105}}}}]}
]},
{"align":"none","spacing":14,"resolve":{"scale":{"color":"independent","shape":"independent","stroke":"independent"},"legend":{"color":"independent","shape":"independent","stroke":"independent"}},"concat":[
 {"width":193,"height":81,"title":"春风250cc+摩托总销量（万辆）","data":{"name":"C4"},"encoding":{"x":{"field":"m","type":"ordinal","title":null,"scale":{"domain":[1,2,3,4,5,6,7,8,9,10,11,12]},"axis":{"labelExpr":"datum.value + '月'","minExtent":45,"maxExtent":45}},"y":{"field":"v","type":"quantitative","title":null,"scale":{"domain":[0,3],"nice":false},"axis":{"values":[0,0.5,1,1.5,2,2.5,3],"format":"~f","minExtent":50,"maxExtent":50}}},"layer":[{"mark":"line","encoding":{"stroke":{"field":"s","type":"nominal","scale":{"domain":["2025年","2024年","2023年"],"range":["#9E1A20","#F2BE45","#ED7D31"]},"legend":null}}},{"mark":"point","encoding":{"color":{"field":"s","type":"nominal","scale":{"domain":["2023年","2024年","2025年"],"range":["#ED7D31","#F2BE45","#9E1A20"]},"legend":{"title":null,"legendX":25,"legendY":105}},"shape":{"field":"s","type":"nominal","scale":{"domain":["2023年","2024年","2025年"],"range":["square","diamond","triangle-up"]},"legend":{"title":null,"legendX":25,"legendY":105}}}}]},
 {"width":194,"height":81,"title":"春风250cc+摩托出口销量（万辆）","data":{"name":"C5"},"encoding":{"x":{"field":"m","type":"ordinal","title":null,"scale":{"domain":[1,2,3,4,5,6,7,8,9,10,11,12]},"axis":{"labelExpr":"datum.value + '月'","minExtent":45,"maxExtent":45}},"y":{"field":"v","type":"quantitative","title":null,"scale":{"domain":[0,1.6],"nice":false},"axis":{"values":[0,0.2,0.4,0.6,0.8,1,1.2,1.4,1.6],"format":"~f","minExtent":24,"maxExtent":24}}},"layer":[{"mark":"line","encoding":{"stroke":{"field":"s","type":"nominal","scale":{"domain":["2025年","2024年","2023年"],"range":["#9E1A20","#F2BE45","#ED7D31"]},"legend":null}}},{"mark":"point","encoding":{"color":{"field":"s","type":"nominal","scale":{"domain":["2023年","2024年","2025年"],"range":["#ED7D31","#F2BE45","#9E1A20"]},"legend":{"title":null,"legendX":25,"legendY":105}},"shape":{"field":"s","type":"nominal","scale":{"domain":["2023年","2024年","2025年"],"range":["square","diamond","triangle-up"]},"legend":{"title":null,"legendX":25,"legendY":105}}}}]},
 {"width":196,"height":81,"title":"春风250cc+摩托内销销量（万辆）","data":{"name":"C6"},"encoding":{"x":{"field":"m","type":"ordinal","title":null,"scale":{"domain":[1,2,3,4,5,6,7,8,9,10,11,12]},"axis":{"labelExpr":"datum.value + '月'","minExtent":45,"maxExtent":45}},"y":{"field":"v","type":"quantitative","title":null,"scale":{"domain":[0,2],"nice":false},"axis":{"values":[0,0.5,1,1.5,2],"format":"~f","minExtent":23,"maxExtent":23}}},"layer":[{"mark":"line","encoding":{"stroke":{"field":"s","type":"nominal","scale":{"domain":["2025年","2024年","2023年"],"range":["#9E1A20","#F2BE45","#ED7D31"]},"legend":null}}},{"mark":"point","encoding":{"color":{"field":"s","type":"nominal","scale":{"domain":["2023年","2024年","2025年"],"range":["#ED7D31","#F2BE45","#9E1A20"]},"legend":{"title":null,"legendX":27,"legendY":105}},"shape":{"field":"s","type":"nominal","scale":{"domain":["2023年","2024年","2025年"],"range":["square","diamond","triangle-up"]},"legend":{"title":null,"legendX":27,"legendY":105}}}}]}
]},
{"align":"none","spacing":14,"resolve":{"scale":{"color":"independent","shape":"independent","stroke":"independent"},"legend":{"color":"independent","shape":"independent","stroke":"independent"}},"concat":[
 {"width":51,"height":10,"data":{"values":[]},"mark":"point"},
 {"width":194,"height":81,"title":"春风电动摩托总销量（万辆）","data":{"name":"C7"},"encoding":{"x":{"field":"m","type":"ordinal","title":null,"scale":{"domain":[1,2,3,4,5,6,7,8,9,10,11,12]},"axis":{"labelExpr":"datum.value + '月'","minExtent":42,"maxExtent":42}},"y":{"field":"v","type":"quantitative","title":null,"scale":{"domain":[0,4],"nice":false},"axis":{"values":[0,0.5,1,1.5,2,2.5,3,3.5,4],"format":"~f","minExtent":24,"maxExtent":24}}},"layer":[{"mark":"line","encoding":{"stroke":{"field":"s","type":"nominal","scale":{"domain":["2025年","2024年","2023年"],"range":["#9E1A20","#F2BE45","#ED7D31"]},"legend":null}}},{"mark":"point","encoding":{"color":{"field":"s","type":"nominal","scale":{"domain":["2023年","2024年","2025年"],"range":["#ED7D31","#F2BE45","#9E1A20"]},"legend":{"title":null,"legendX":25,"legendY":105}},"shape":{"field":"s","type":"nominal","scale":{"domain":["2023年","2024年","2025年"],"range":["square","diamond","triangle-up"]},"legend":{"title":null,"legendX":25,"legendY":105}}}}]},
 {"width":194,"height":81,"title":"春风全地形车国内工厂出货（万辆）","data":{"name":"C8"},"encoding":{"x":{"field":"m","type":"ordinal","title":null,"scale":{"domain":[1,2,3,4,5,6,7,8,9,10,11,12]},"axis":{"labelExpr":"datum.value + '月'","minExtent":42,"maxExtent":42}},"y":{"field":"v","type":"quantitative","title":null,"scale":{"domain":[0,2.5],"nice":false},"axis":{"values":[0,0.5,1,1.5,2,2.5],"format":"~f","minExtent":41,"maxExtent":41}}},"layer":[{"mark":"line","encoding":{"stroke":{"field":"s","type":"nominal","scale":{"domain":["2025年","2024年","2023年"],"range":["#9E1A20","#F2BE45","#ED7D31"]},"legend":null}}},{"mark":"point","encoding":{"color":{"field":"s","type":"nominal","scale":{"domain":["2023年","2024年","2025年"],"range":["#ED7D31","#F2BE45","#9E1A20"]},"legend":{"title":null,"legendX":25,"legendY":105}},"shape":{"field":"s","type":"nominal","scale":{"domain":["2023年","2024年","2025年"],"range":["square","diamond","triangle-up"]},"legend":{"title":null,"legendX":25,"legendY":105}}}}]}
]},
{"align":"none","spacing":0,"concat":[
 {"width":201,"height":10,"data":{"values":[]},"mark":"point"},
 {"width":217,"height":22,"view":{"fill":"#FFC000","stroke":null},"data":{"values":[{"t":"隆鑫通用"}]},"mark":{"type":"text","fontWeight":"bold","fontSize":11,"color":"#1A1A1A"},"encoding":{"text":{"field":"t"},"x":{"field":"t","type":"nominal","title":null,"axis":{"labels":false,"grid":false,"minExtent":16,"maxExtent":16}}}}
]},
{"align":"none","spacing":14,"resolve":{"scale":{"color":"independent","shape":"independent","stroke":"independent"},"legend":{"color":"independent","shape":"independent","stroke":"independent"}},"concat":[
 {"width":193,"height":81,"title":"隆鑫两轮车总销量（万辆）","data":{"name":"L1"},"encoding":{"x":{"field":"m","type":"ordinal","title":null,"scale":{"domain":[1,2,3,4,5,6,7,8,9,10,11,12]},"axis":{"labelExpr":"datum.value + '月'","minExtent":64,"maxExtent":64}},"y":{"field":"v","type":"quantitative","title":null,"scale":{"domain":[0,18],"nice":false},"axis":{"values":[0,2,4,6,8,10,12,14,16,18],"format":"~f","minExtent":50,"maxExtent":50}}},"layer":[{"mark":"line","encoding":{"stroke":{"field":"s","type":"nominal","scale":{"domain":["2025年","2024年","2023年"],"range":["#9E1A20","#F2BE45","#ED7D31"]},"legend":null}}},{"mark":"point","encoding":{"color":{"field":"s","type":"nominal","scale":{"domain":["2023年","2024年","2025年"],"range":["#ED7D31","#F2BE45","#9E1A20"]},"legend":{"title":null,"legendX":25,"legendY":105}},"shape":{"field":"s","type":"nominal","scale":{"domain":["2023年","2024年","2025年"],"range":["square","diamond","triangle-up"]},"legend":{"title":null,"legendX":25,"legendY":105}}}}]},
 {"width":194,"height":81,"title":"隆鑫两轮车出口销量（万辆）","data":{"name":"L2"},"encoding":{"x":{"field":"m","type":"ordinal","title":null,"scale":{"domain":[1,2,3,4,5,6,7,8,9,10,11,12]},"axis":{"labelExpr":"datum.value + '月'","minExtent":64,"maxExtent":64}},"y":{"field":"v","type":"quantitative","title":null,"scale":{"domain":[0,18],"nice":false},"axis":{"values":[0,2,4,6,8,10,12,14,16,18],"format":"~f","minExtent":24,"maxExtent":24}}},"layer":[{"mark":"line","encoding":{"stroke":{"field":"s","type":"nominal","scale":{"domain":["2025年","2024年","2023年"],"range":["#9E1A20","#F2BE45","#ED7D31"]},"legend":null}}},{"mark":"point","encoding":{"color":{"field":"s","type":"nominal","scale":{"domain":["2023年","2024年","2025年"],"range":["#ED7D31","#F2BE45","#9E1A20"]},"legend":{"title":null,"legendX":25,"legendY":105}},"shape":{"field":"s","type":"nominal","scale":{"domain":["2023年","2024年","2025年"],"range":["square","diamond","triangle-up"]},"legend":{"title":null,"legendX":25,"legendY":105}}}}]},
 {"width":196,"height":81,"title":"隆鑫两轮车内销销量（万辆）","data":{"name":"L3"},"encoding":{"x":{"field":"m","type":"ordinal","title":null,"scale":{"domain":[1,2,3,4,5,6,7,8,9,10,11,12]},"axis":{"labelExpr":"datum.value + '月'","minExtent":64,"maxExtent":64}},"y":{"field":"v","type":"quantitative","title":null,"scale":{"domain":[0,1.8],"nice":false},"axis":{"values":[0,0.2,0.4,0.6,0.8,1,1.2,1.4,1.6,1.8],"format":"~f","minExtent":23,"maxExtent":23}}},"layer":[{"mark":"line","encoding":{"stroke":{"field":"s","type":"nominal","scale":{"domain":["2025年","2024年","2023年"],"range":["#9E1A20","#F2BE45","#ED7D31"]},"legend":null}}},{"mark":"point","encoding":{"color":{"field":"s","type":"nominal","scale":{"domain":["2023年","2024年","2025年"],"range":["#ED7D31","#F2BE45","#9E1A20"]},"legend":{"title":null,"legendX":27,"legendY":105}},"shape":{"field":"s","type":"nominal","scale":{"domain":["2023年","2024年","2025年"],"range":["square","diamond","triangle-up"]},"legend":{"title":null,"legendX":27,"legendY":105}}}}]}
]},
{"align":"none","spacing":14,"resolve":{"scale":{"color":"independent","shape":"independent","stroke":"independent"},"legend":{"color":"independent","shape":"independent","stroke":"independent"}},"concat":[
 {"width":193,"height":81,"title":"隆鑫250cc+摩托总销量（万辆）","data":{"name":"L4"},"encoding":{"x":{"field":"m","type":"ordinal","title":null,"scale":{"domain":[1,2,3,4,5,6,7,8,9,10,11,12]},"axis":{"labelExpr":"datum.value + '月'","minExtent":54,"maxExtent":54}},"y":{"field":"v","type":"quantitative","title":null,"scale":{"domain":[0,1.6],"nice":false},"axis":{"values":[0,0.2,0.4,0.6,0.8,1,1.2,1.4,1.6],"format":"~f","minExtent":50,"maxExtent":50}}},"layer":[{"mark":"line","encoding":{"stroke":{"field":"s","type":"nominal","scale":{"domain":["2025年","2024年","2023年"],"range":["#9E1A20","#F2BE45","#ED7D31"]},"legend":null}}},{"mark":"point","encoding":{"color":{"field":"s","type":"nominal","scale":{"domain":["2023年","2024年","2025年"],"range":["#ED7D31","#F2BE45","#9E1A20"]},"legend":{"title":null,"legendX":25,"legendY":105}},"shape":{"field":"s","type":"nominal","scale":{"domain":["2023年","2024年","2025年"],"range":["square","diamond","triangle-up"]},"legend":{"title":null,"legendX":25,"legendY":105}}}}]},
 {"width":194,"height":81,"title":"隆鑫250cc+摩托出口销量（万辆）","data":{"name":"L5"},"encoding":{"x":{"field":"m","type":"ordinal","title":null,"scale":{"domain":[1,2,3,4,5,6,7,8,9,10,11,12]},"axis":{"labelExpr":"datum.value + '月'","minExtent":54,"maxExtent":54}},"y":{"field":"v","type":"quantitative","title":null,"scale":{"domain":[0,1.2],"nice":false},"axis":{"values":[0,0.2,0.4,0.6,0.8,1,1.2],"format":"~f","minExtent":24,"maxExtent":24}}},"layer":[{"mark":"line","encoding":{"stroke":{"field":"s","type":"nominal","scale":{"domain":["2025年","2024年","2023年"],"range":["#9E1A20","#F2BE45","#ED7D31"]},"legend":null}}},{"mark":"point","encoding":{"color":{"field":"s","type":"nominal","scale":{"domain":["2023年","2024年","2025年"],"range":["#ED7D31","#F2BE45","#9E1A20"]},"legend":{"title":null,"legendX":25,"legendY":105}},"shape":{"field":"s","type":"nominal","scale":{"domain":["2023年","2024年","2025年"],"range":["square","diamond","triangle-up"]},"legend":{"title":null,"legendX":25,"legendY":105}}}}]},
 {"width":196,"height":81,"title":"隆鑫250cc+摩托内销销量（万辆）","data":{"name":"L6"},"encoding":{"x":{"field":"m","type":"ordinal","title":null,"scale":{"domain":[1,2,3,4,5,6,7,8,9,10,11,12]},"axis":{"labelExpr":"datum.value + '月'","minExtent":54,"maxExtent":54}},"y":{"field":"v","type":"quantitative","title":null,"scale":{"domain":[0,1],"nice":false},"axis":{"values":[0,0.2,0.4,0.6,0.8,1],"format":"~f","minExtent":23,"maxExtent":23}}},"layer":[{"mark":"line","encoding":{"stroke":{"field":"s","type":"nominal","scale":{"domain":["2025年","2024年","2023年"],"range":["#9E1A20","#F2BE45","#ED7D31"]},"legend":null}}},{"mark":"point","encoding":{"color":{"field":"s","type":"nominal","scale":{"domain":["2023年","2024年","2025年"],"range":["#ED7D31","#F2BE45","#9E1A20"]},"legend":{"title":null,"legendX":27,"legendY":105}},"shape":{"field":"s","type":"nominal","scale":{"domain":["2023年","2024年","2025年"],"range":["square","diamond","triangle-up"]},"legend":{"title":null,"legendX":27,"legendY":105}}}}]}
]},
{"align":"none","spacing":14,"resolve":{"scale":{"color":"independent","shape":"independent","stroke":"independent"},"legend":{"color":"independent","shape":"independent","stroke":"independent"}},"concat":[
 {"width":52,"height":10,"data":{"values":[]},"mark":"point"},
 {"width":189,"height":81,"title":"隆鑫通用全地形车销量（辆）","data":{"name":"L7"},"encoding":{"x":{"field":"m","type":"ordinal","title":null,"scale":{"domain":[1,2,3,4,5,6,7,8,9,10,11,12]},"axis":{"labelExpr":"datum.value + '月'","minExtent":40,"maxExtent":40}},"y":{"field":"v","type":"quantitative","title":null,"scale":{"domain":[0,5000],"nice":false},"axis":{"values":[0,1000,2000,3000,4000,5000],"format":"d","minExtent":24,"maxExtent":24}}},"layer":[{"mark":"line","encoding":{"stroke":{"field":"s","type":"nominal","scale":{"domain":["2025年","2024年","2023年"],"range":["#9E1A20","#F2BE45","#ED7D31"]},"legend":null}}},{"mark":"point","encoding":{"color":{"field":"s","type":"nominal","scale":{"domain":["2023年","2024年","2025年"],"range":["#ED7D31","#F2BE45","#9E1A20"]},"legend":{"title":null,"legendX":23,"legendY":105}},"shape":{"field":"s","type":"nominal","scale":{"domain":["2023年","2024年","2025年"],"range":["square","diamond","triangle-up"]},"legend":{"title":null,"legendX":23,"legendY":105}}}}]},
 {"width":199,"height":81,"title":"隆鑫通用三轮摩托车销量（辆）","data":{"name":"L8"},"encoding":{"x":{"field":"m","type":"ordinal","title":null,"scale":{"domain":[1,2,3,4,5,6,7,8,9,10,11,12]},"axis":{"labelExpr":"datum.value + '月'","minExtent":40,"maxExtent":40}},"y":{"field":"v","type":"quantitative","title":null,"scale":{"domain":[0,3],"nice":false},"axis":{"values":[0,0.5,1,1.5,2,2.5,3],"format":"d","minExtent":40,"maxExtent":40}}},"layer":[{"mark":"line","encoding":{"stroke":{"field":"s","type":"nominal","scale":{"domain":["2025年","2024年","2023年"],"range":["#C8402F","#F2BE45","#ED7D31"]},"legend":null}}},{"mark":"point","encoding":{"color":{"field":"s","type":"nominal","scale":{"domain":["2023年","2024年","2025年"],"range":["#ED7D31","#F2BE45","#C8402F"]},"legend":{"title":null,"legendX":28,"legendY":105}},"shape":{"field":"s","type":"nominal","scale":{"domain":["2023年","2024年","2025年"],"range":["square","diamond","circle"]},"legend":{"title":null,"legendX":28,"legendY":105}}}}]}
]},
{"align":"none","spacing":0,"concat":[
 {"width":201,"height":10,"data":{"values":[]},"mark":"point"},
 {"width":217,"height":22,"view":{"fill":"#FFC000","stroke":null},"data":{"values":[{"t":"钱江摩托"}]},"mark":{"type":"text","fontWeight":"bold","fontSize":11,"color":"#1A1A1A"},"encoding":{"text":{"field":"t"},"x":{"field":"t","type":"nominal","title":null,"axis":{"labels":false,"grid":false,"minExtent":14,"maxExtent":14}}}}
]},
{"align":"none","spacing":14,"resolve":{"scale":{"color":"independent","shape":"independent","stroke":"independent"},"legend":{"color":"independent","shape":"independent","stroke":"independent"}},"concat":[
 {"width":193,"height":81,"title":"钱江两轮车总销量（万辆）","data":{"name":"Q1"},"encoding":{"x":{"field":"m","type":"ordinal","title":null,"scale":{"domain":[1,2,3,4,5,6,7,8,9,10,11,12]},"axis":{"labelExpr":"datum.value + '月'","minExtent":54,"maxExtent":54}},"y":{"field":"v","type":"quantitative","title":null,"scale":{"domain":[0,6],"nice":false},"axis":{"values":[0,1,2,3,4,5,6],"format":"~f","minExtent":50,"maxExtent":50}}},"layer":[{"mark":"line","encoding":{"stroke":{"field":"s","type":"nominal","scale":{"domain":["2025年","2024年","2023年"],"range":["#9E1A20","#F2BE45","#ED7D31"]},"legend":null}}},{"mark":"point","encoding":{"color":{"field":"s","type":"nominal","scale":{"domain":["2023年","2024年","2025年"],"range":["#ED7D31","#F2BE45","#9E1A20"]},"legend":{"title":null,"legendX":25,"legendY":105}},"shape":{"field":"s","type":"nominal","scale":{"domain":["2023年","2024年","2025年"],"range":["square","diamond","triangle-up"]},"legend":{"title":null,"legendX":25,"legendY":105}}}}]},
 {"width":194,"height":81,"title":"钱江两轮车出口销量（万辆）","data":{"name":"Q2"},"encoding":{"x":{"field":"m","type":"ordinal","title":null,"scale":{"domain":[1,2,3,4,5,6,7,8,9,10,11,12]},"axis":{"labelExpr":"datum.value + '月'","minExtent":54,"maxExtent":54}},"y":{"field":"v","type":"quantitative","title":null,"scale":{"domain":[0,3],"nice":false},"axis":{"values":[0,0.5,1,1.5,2,2.5,3],"format":"~f","minExtent":24,"maxExtent":24}}},"layer":[{"mark":"line","encoding":{"stroke":{"field":"s","type":"nominal","scale":{"domain":["2025年","2024年","2023年"],"range":["#9E1A20","#F2BE45","#ED7D31"]},"legend":null}}},{"mark":"point","encoding":{"color":{"field":"s","type":"nominal","scale":{"domain":["2023年","2024年","2025年"],"range":["#ED7D31","#F2BE45","#9E1A20"]},"legend":{"title":null,"legendX":25,"legendY":105}},"shape":{"field":"s","type":"nominal","scale":{"domain":["2023年","2024年","2025年"],"range":["square","diamond","triangle-up"]},"legend":{"title":null,"legendX":25,"legendY":105}}}}]},
 {"width":196,"height":81,"title":"钱江两轮车内销销量（万辆）","data":{"name":"Q3"},"encoding":{"x":{"field":"m","type":"ordinal","title":null,"scale":{"domain":[1,2,3,4,5,6,7,8,9,10,11,12]},"axis":{"labelExpr":"datum.value + '月'","minExtent":54,"maxExtent":54}},"y":{"field":"v","type":"quantitative","title":null,"scale":{"domain":[0,3.5],"nice":false},"axis":{"values":[0,0.5,1,1.5,2,2.5,3,3.5],"format":"~f","minExtent":23,"maxExtent":23}}},"layer":[{"mark":"line","encoding":{"stroke":{"field":"s","type":"nominal","scale":{"domain":["2025年","2024年","2023年"],"range":["#9E1A20","#F2BE45","#ED7D31"]},"legend":null}}},{"mark":"point","encoding":{"color":{"field":"s","type":"nominal","scale":{"domain":["2023年","2024年","2025年"],"range":["#ED7D31","#F2BE45","#9E1A20"]},"legend":{"title":null,"legendX":27,"legendY":105}},"shape":{"field":"s","type":"nominal","scale":{"domain":["2023年","2024年","2025年"],"range":["square","diamond","triangle-up"]},"legend":{"title":null,"legendX":27,"legendY":105}}}}]}
]},
{"align":"none","spacing":14,"resolve":{"scale":{"color":"independent","shape":"independent","stroke":"independent"},"legend":{"color":"independent","shape":"independent","stroke":"independent"}},"concat":[
 {"width":193,"height":81,"title":"钱江250cc+摩托总销量（万辆）","data":{"name":"Q4"},"encoding":{"x":{"field":"m","type":"ordinal","title":null,"scale":{"domain":[1,2,3,4,5,6,7,8,9,10,11,12]},"axis":{"labelExpr":"datum.value + '月'","minExtent":47,"maxExtent":47}},"y":{"field":"v","type":"quantitative","title":null,"scale":{"domain":[0,2.5],"nice":false},"axis":{"values":[0,0.5,1,1.5,2,2.5],"format":"~f","minExtent":50,"maxExtent":50}}},"layer":[{"mark":"line","encoding":{"stroke":{"field":"s","type":"nominal","scale":{"domain":["2025年","2024年","2023年"],"range":["#9E1A20","#F2BE45","#ED7D31"]},"legend":null}}},{"mark":"point","encoding":{"color":{"field":"s","type":"nominal","scale":{"domain":["2023年","2024年","2025年"],"range":["#ED7D31","#F2BE45","#9E1A20"]},"legend":{"title":null,"legendX":25,"legendY":105}},"shape":{"field":"s","type":"nominal","scale":{"domain":["2023年","2024年","2025年"],"range":["square","diamond","triangle-up"]},"legend":{"title":null,"legendX":25,"legendY":105}}}}]},
 {"width":194,"height":81,"title":"钱江250cc+摩托出口销量（万辆）","data":{"name":"Q5"},"encoding":{"x":{"field":"m","type":"ordinal","title":null,"scale":{"domain":[1,2,3,4,5,6,7,8,9,10,11,12]},"axis":{"labelExpr":"datum.value + '月'","minExtent":47,"maxExtent":47}},"y":{"field":"v","type":"quantitative","title":null,"scale":{"domain":[0,0.8],"nice":false},"axis":{"values":[0,0.1,0.2,0.3,0.4,0.5,0.6,0.7,0.8],"format":"~f","minExtent":24,"maxExtent":24}}},"layer":[{"mark":"line","encoding":{"stroke":{"field":"s","type":"nominal","scale":{"domain":["2025年","2024年","2023年"],"range":["#9E1A20","#F2BE45","#ED7D31"]},"legend":null}}},{"mark":"point","encoding":{"color":{"field":"s","type":"nominal","scale":{"domain":["2023年","2024年","2025年"],"range":["#ED7D31","#F2BE45","#9E1A20"]},"legend":{"title":null,"legendX":25,"legendY":105}},"shape":{"field":"s","type":"nominal","scale":{"domain":["2023年","2024年","2025年"],"range":["square","diamond","triangle-up"]},"legend":{"title":null,"legendX":25,"legendY":105}}}}]},
 {"width":196,"height":81,"title":"钱江250cc+摩托内销销量（万辆）","data":{"name":"Q6"},"encoding":{"x":{"field":"m","type":"ordinal","title":null,"scale":{"domain":[1,2,3,4,5,6,7,8,9,10,11,12]},"axis":{"labelExpr":"datum.value + '月'","minExtent":47,"maxExtent":47}},"y":{"field":"v","type":"quantitative","title":null,"scale":{"domain":[0,1.6],"nice":false},"axis":{"values":[0,0.2,0.4,0.6,0.8,1,1.2,1.4,1.6],"format":"~f","minExtent":23,"maxExtent":23}}},"layer":[{"mark":"line","encoding":{"stroke":{"field":"s","type":"nominal","scale":{"domain":["2025年","2024年","2023年"],"range":["#9E1A20","#F2BE45","#ED7D31"]},"legend":null}}},{"mark":"point","encoding":{"color":{"field":"s","type":"nominal","scale":{"domain":["2023年","2024年","2025年"],"range":["#ED7D31","#F2BE45","#9E1A20"]},"legend":{"title":null,"legendX":27,"legendY":105}},"shape":{"field":"s","type":"nominal","scale":{"domain":["2023年","2024年","2025年"],"range":["square","diamond","triangle-up"]},"legend":{"title":null,"legendX":27,"legendY":105}}}}]}
]},
{"align":"none","spacing":0,"concat":[
 {"width":201,"height":10,"data":{"values":[]},"mark":"point"},
 {"width":217,"height":22,"view":{"fill":"#FFC000","stroke":null},"data":{"values":[{"t":"宗申集团"}]},"mark":{"type":"text","fontWeight":"bold","fontSize":11,"color":"#1A1A1A"},"encoding":{"text":{"field":"t"},"x":{"field":"t","type":"nominal","title":null,"axis":{"labels":false,"grid":false,"minExtent":24,"maxExtent":24}}}}
]},
{"align":"none","spacing":14,"resolve":{"scale":{"color":"independent","shape":"independent","stroke":"independent"},"legend":{"color":"independent","shape":"independent","stroke":"independent"}},"concat":[
 {"width":193,"height":81,"title":"宗申两轮车总销量（万辆）","data":{"name":"Z1"},"encoding":{"x":{"field":"m","type":"ordinal","title":null,"scale":{"domain":[1,2,3,4,5,6,7,8,9,10,11,12]},"axis":{"labelExpr":"datum.value + '月'","minExtent":49,"maxExtent":49}},"y":{"field":"v","type":"quantitative","title":null,"scale":{"domain":[0,7],"nice":false},"axis":{"values":[0,1,2,3,4,5,6,7],"format":"~f","minExtent":50,"maxExtent":50}}},"layer":[{"mark":"line","encoding":{"stroke":{"field":"s","type":"nominal","scale":{"domain":["2025年","2024年"],"range":["#F2BE45","#ED7D31"]},"legend":null}}},{"mark":"point","encoding":{"color":{"field":"s","type":"nominal","scale":{"domain":["2024年","2025年"],"range":["#ED7D31","#F2BE45"]},"legend":{"title":null,"legendX":52,"legendY":105}},"shape":{"field":"s","type":"nominal","scale":{"domain":["2024年","2025年"],"range":["square","diamond"]},"legend":{"title":null,"legendX":52,"legendY":105}}}}]},
 {"width":194,"height":81,"title":"宗申两轮车出口销量（万辆）","data":{"name":"Z2"},"encoding":{"x":{"field":"m","type":"ordinal","title":null,"scale":{"domain":[1,2,3,4,5,6,7,8,9,10,11,12]},"axis":{"labelExpr":"datum.value + '月'","minExtent":49,"maxExtent":49}},"y":{"field":"v","type":"quantitative","title":null,"scale":{"domain":[0,6],"nice":false},"axis":{"values":[0,1,2,3,4,5,6],"format":"~f","minExtent":24,"maxExtent":24}}},"layer":[{"mark":"line","encoding":{"stroke":{"field":"s","type":"nominal","scale":{"domain":["2025年","2024年"],"range":["#F2BE45","#ED7D31"]},"legend":null}}},{"mark":"point","encoding":{"color":{"field":"s","type":"nominal","scale":{"domain":["2024年","2025年"],"range":["#ED7D31","#F2BE45"]},"legend":{"title":null,"legendX":53,"legendY":105}},"shape":{"field":"s","type":"nominal","scale":{"domain":["2024年","2025年"],"range":["square","diamond"]},"legend":{"title":null,"legendX":53,"legendY":105}}}}]},
 {"width":196,"height":81,"title":"宗申两轮车内销销量（万辆）","data":{"name":"Z3"},"encoding":{"x":{"field":"m","type":"ordinal","title":null,"scale":{"domain":[1,2,3,4,5,6,7,8,9,10,11,12]},"axis":{"labelExpr":"datum.value + '月'","minExtent":49,"maxExtent":49}},"y":{"field":"v","type":"quantitative","title":null,"scale":{"domain":[0,1],"nice":false},"axis":{"values":[0,0.2,0.4,0.6,0.8,1],"format":"~f","minExtent":23,"maxExtent":23}}},"layer":[{"mark":"line","encoding":{"stroke":{"field":"s","type":"nominal","scale":{"domain":["2025年","2024年"],"range":["#F2BE45","#ED7D31"]},"legend":null}}},{"mark":"point","encoding":{"color":{"field":"s","type":"nominal","scale":{"domain":["2024年","2025年"],"range":["#ED7D31","#F2BE45"]},"legend":{"title":null,"legendX":54,"legendY":105}},"shape":{"field":"s","type":"nominal","scale":{"domain":["2024年","2025年"],"range":["square","diamond"]},"legend":{"title":null,"legendX":54,"legendY":105}}}}]}
]},
{"align":"none","spacing":14,"resolve":{"scale":{"color":"independent","shape":"independent","stroke":"independent"},"legend":{"color":"independent","shape":"independent","stroke":"independent"}},"concat":[
 {"width":193,"height":81,"title":"宗申250cc+摩托总销量（万辆）","data":{"name":"Z4"},"encoding":{"x":{"field":"m","type":"ordinal","title":null,"scale":{"domain":[1,2,3,4,5,6,7,8,9,10,11,12]},"axis":{"labelExpr":"datum.value + '月'","minExtent":57,"maxExtent":57}},"y":{"field":"v","type":"quantitative","title":null,"scale":{"domain":[0,1.2],"nice":false},"axis":{"values":[0,0.2,0.4,0.6,0.8,1,1.2],"format":"~f","minExtent":50,"maxExtent":50}}},"layer":[{"mark":"line","encoding":{"stroke":{"field":"s","type":"nominal","scale":{"domain":["2025年","2024年"],"range":["#F2BE45","#ED7D31"]},"legend":null}}},{"mark":"point","encoding":{"color":{"field":"s","type":"nominal","scale":{"domain":["2024年","2025年"],"range":["#ED7D31","#F2BE45"]},"legend":{"title":null,"legendX":52,"legendY":105}},"shape":{"field":"s","type":"nominal","scale":{"domain":["2024年","2025年"],"range":["square","diamond"]},"legend":{"title":null,"legendX":52,"legendY":105}}}}]},
 {"width":194,"height":81,"title":"宗申250cc+摩托出口销量（万辆）","data":{"name":"Z5"},"encoding":{"x":{"field":"m","type":"ordinal","title":null,"scale":{"domain":[1,2,3,4,5,6,7,8,9,10,11,12]},"axis":{"labelExpr":"datum.value + '月'","minExtent":57,"maxExtent":57}},"y":{"field":"v","type":"quantitative","title":null,"scale":{"domain":[0,1.2],"nice":false},"axis":{"values":[0,0.2,0.4,0.6,0.8,1,1.2],"format":"~f","minExtent":24,"maxExtent":24}}},"layer":[{"mark":"line","encoding":{"stroke":{"field":"s","type":"nominal","scale":{"domain":["2025年","2024年"],"range":["#F2BE45","#ED7D31"]},"legend":null}}},{"mark":"point","encoding":{"color":{"field":"s","type":"nominal","scale":{"domain":["2024年","2025年"],"range":["#ED7D31","#F2BE45"]},"legend":{"title":null,"legendX":53,"legendY":105}},"shape":{"field":"s","type":"nominal","scale":{"domain":["2024年","2025年"],"range":["square","diamond"]},"legend":{"title":null,"legendX":53,"legendY":105}}}}]},
 {"width":196,"height":81,"title":"宗申250cc+摩托内销销量（万辆）","data":{"name":"Z6"},"encoding":{"x":{"field":"m","type":"ordinal","title":null,"scale":{"domain":[1,2,3,4,5,6,7,8,9,10,11,12]},"axis":{"labelExpr":"datum.value + '月'","minExtent":57,"maxExtent":57}},"y":{"field":"v","type":"quantitative","title":null,"scale":{"domain":[0,0.25],"nice":false},"axis":{"values":[0,0.05,0.1,0.15,0.2,0.25],"format":"~f","minExtent":23,"maxExtent":23}}},"layer":[{"mark":"line","encoding":{"stroke":{"field":"s","type":"nominal","scale":{"domain":["2025年","2024年"],"range":["#F2BE45","#ED7D31"]},"legend":null}}},{"mark":"point","encoding":{"color":{"field":"s","type":"nominal","scale":{"domain":["2024年","2025年"],"range":["#ED7D31","#F2BE45"]},"legend":{"title":null,"legendX":54,"legendY":105}},"shape":{"field":"s","type":"nominal","scale":{"domain":["2024年","2025年"],"range":["square","diamond"]},"legend":{"title":null,"legendX":54,"legendY":105}}}}]}
]},
{"align":"none","spacing":14,"resolve":{"scale":{"color":"independent","shape":"independent","stroke":"independent"},"legend":{"color":"independent","shape":"independent","stroke":"independent"}},"concat":[
 {"width":194,"height":10,"data":{"values":[]},"mark":"point"},
 {"width":196,"height":81,"title":"宗申三轮摩托车销量（万辆）","data":{"name":"Z7"},"encoding":{"x":{"field":"m","type":"ordinal","title":null,"scale":{"domain":[1,2,3,4,5,6,7,8,9,10,11,12]},"axis":{"labelExpr":"datum.value + '月'","minExtent":50,"maxExtent":50}},"y":{"field":"v","type":"quantitative","title":null,"scale":{"domain":[0,12],"nice":false},"axis":{"values":[0,2,4,6,8,10,12],"format":"~f","minExtent":24,"maxExtent":24}}},"layer":[{"mark":"line","encoding":{"stroke":{"field":"s","type":"nominal","scale":{"domain":["2025年","2024年"],"range":["#F2BE45","#ED7D31"]},"legend":null}}},{"mark":"point","encoding":{"color":{"field":"s","type":"nominal","scale":{"domain":["2024年","2025年"],"range":["#ED7D31","#F2BE45"]},"legend":{"title":null,"legendX":54,"legendY":105}},"shape":{"field":"s","type":"nominal","scale":{"domain":["2024年","2025年"],"range":["square","diamond"]},"legend":{"title":null,"legendX":54,"legendY":105}}}}]}
]}
]
}
